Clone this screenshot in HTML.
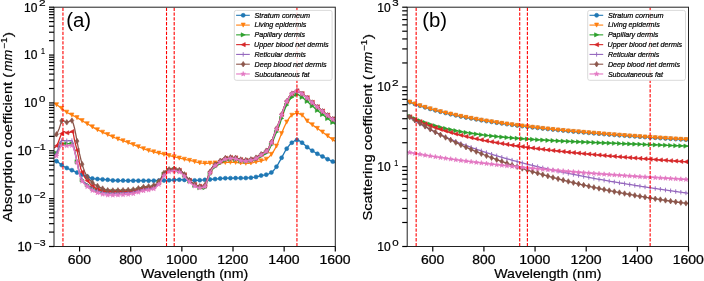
<!DOCTYPE html>
<html><head><meta charset="utf-8"><style>
html,body{margin:0;padding:0;background:#fff;}
svg{display:block;}
text{font-family:"Liberation Sans",sans-serif;fill:#000}
.tk{font-size:12.2px;stroke:#000;stroke-width:0.25px}.sup{font-size:8.6px;stroke:#000;stroke-width:0.18px}.lg{font-size:7.5px;font-style:italic;stroke:#000;stroke-width:0.22px}.pl{font-size:20px}.al{font-size:12.4px;stroke:#000;stroke-width:0.2px}.ali{font-size:12.4px;font-style:italic;stroke:#000;stroke-width:0.2px}.als{font-size:8.6px;stroke:#000;stroke-width:0.18px}
</style></head><body>
<svg width="704" height="281" viewBox="0 0 704 281">
<rect width="704" height="281" fill="#fff"/>
<defs><clipPath id="cl"><rect x="54" y="7.2" width="281.3" height="239.3"/></clipPath><clipPath id="cr"><rect x="407.2" y="7.2" width="281.3" height="239.3"/></clipPath></defs>
<g clip-path="url(#cl)">
<path d="M54.00,160.60 L55.28,160.81 L56.56,161.19 L57.84,161.93 L59.11,162.98 L60.39,164.10 L61.67,165.08 L62.95,165.88 L64.23,166.63 L65.51,167.34 L66.79,167.99 L68.06,168.58 L69.34,169.12 L70.62,169.65 L71.90,170.20 L73.18,170.80 L74.46,171.42 L75.74,172.03 L77.02,172.59 L78.29,173.12 L79.57,173.63 L80.85,174.12 L82.13,174.60 L83.41,175.07 L84.69,175.54 L85.97,176.02 L87.24,176.49 L88.52,177.03 L89.80,177.59 L91.08,178.09 L92.36,178.44 L93.64,178.63 L94.92,178.79 L96.19,178.92 L97.47,179.03 L98.75,179.13 L100.03,179.22 L101.31,179.30 L102.59,179.38 L103.87,179.46 L105.15,179.55 L106.42,179.65 L107.70,179.77 L108.98,179.92 L110.26,180.09 L111.54,180.24 L112.82,180.38 L114.10,180.47 L115.37,180.50 L116.65,180.52 L117.93,180.54 L119.21,180.55 L120.49,180.57 L121.77,180.58 L123.05,180.59 L124.33,180.60 L125.60,180.61 L126.88,180.62 L128.16,180.63 L129.44,180.64 L130.72,180.65 L132.00,180.66 L133.28,180.66 L134.55,180.67 L135.83,180.67 L137.11,180.68 L138.39,180.68 L139.67,180.69 L140.95,180.69 L142.23,180.69 L143.50,180.70 L144.78,180.70 L146.06,180.70 L147.34,180.70 L148.62,180.70 L149.90,180.70 L151.18,180.70 L152.46,180.69 L153.73,180.68 L155.01,180.66 L156.29,180.64 L157.57,180.62 L158.85,180.59 L160.13,180.56 L161.41,180.53 L162.68,180.50 L163.96,180.47 L165.24,180.43 L166.52,180.40 L167.80,180.35 L169.08,180.27 L170.36,180.19 L171.63,180.09 L172.91,180.00 L174.19,179.90 L175.47,179.82 L176.75,179.76 L178.03,179.71 L179.31,179.70 L180.59,179.72 L181.86,179.75 L183.14,179.81 L184.42,179.88 L185.70,179.96 L186.98,180.05 L188.26,180.13 L189.54,180.21 L190.81,180.28 L192.09,180.34 L193.37,180.38 L194.65,180.40 L195.93,180.39 L197.21,180.35 L198.49,180.29 L199.76,180.21 L201.04,180.12 L202.32,180.03 L203.60,179.94 L204.88,179.86 L206.16,179.77 L207.44,179.67 L208.72,179.57 L209.99,179.47 L211.27,179.37 L212.55,179.27 L213.83,179.17 L215.11,179.05 L216.39,178.93 L217.67,178.79 L218.94,178.66 L220.22,178.54 L221.50,178.42 L222.78,178.33 L224.06,178.25 L225.34,178.21 L226.62,178.18 L227.89,178.16 L229.17,178.15 L230.45,178.14 L231.73,178.13 L233.01,178.12 L234.29,178.11 L235.57,178.11 L236.85,178.10 L238.12,178.10 L239.40,178.09 L240.68,178.08 L241.96,178.07 L243.24,178.06 L244.52,178.04 L245.80,178.02 L247.07,178.00 L248.35,177.95 L249.63,177.85 L250.91,177.71 L252.19,177.54 L253.47,177.36 L254.75,177.15 L256.02,176.94 L257.30,176.65 L258.58,176.30 L259.86,175.94 L261.14,175.61 L262.42,175.36 L263.70,175.15 L264.98,174.92 L266.25,174.64 L267.53,174.27 L268.81,173.80 L270.09,173.21 L271.37,172.49 L272.65,171.44 L273.93,170.05 L275.20,168.43 L276.48,166.71 L277.76,164.71 L279.04,162.44 L280.32,160.09 L281.60,157.79 L282.88,155.39 L284.15,152.95 L285.43,150.66 L286.71,148.70 L287.99,146.94 L289.27,145.30 L290.55,143.87 L291.83,142.73 L293.11,141.80 L294.38,140.92 L295.66,140.27 L296.94,140.00 L298.22,140.24 L299.50,140.90 L300.78,141.77 L302.06,142.67 L303.33,143.66 L304.61,144.84 L305.89,146.06 L307.17,147.15 L308.45,148.10 L309.73,148.98 L311.01,149.82 L312.28,150.66 L313.56,151.48 L314.84,152.29 L316.12,153.07 L317.40,153.81 L318.68,154.50 L319.96,155.15 L321.24,155.80 L322.51,156.46 L323.79,157.15 L325.07,157.86 L326.35,158.55 L327.63,159.21 L328.91,159.84 L330.19,160.44 L331.46,161.03 L332.74,161.62 L334.02,162.21 L335.30,162.80" fill="none" stroke="#1f77b4" stroke-width="1.3" stroke-linejoin="round"/>
<g fill="#1f77b4" stroke="#1f77b4" stroke-width="0.6"><circle cx="56.56" cy="161.19" r="2.0"/><circle cx="61.67" cy="165.08" r="2.0"/><circle cx="66.79" cy="167.99" r="2.0"/><circle cx="71.90" cy="170.20" r="2.0"/><circle cx="77.02" cy="172.59" r="2.0"/><circle cx="82.13" cy="174.60" r="2.0"/><circle cx="87.24" cy="176.49" r="2.0"/><circle cx="92.36" cy="178.44" r="2.0"/><circle cx="97.47" cy="179.03" r="2.0"/><circle cx="102.59" cy="179.38" r="2.0"/><circle cx="107.70" cy="179.77" r="2.0"/><circle cx="112.82" cy="180.38" r="2.0"/><circle cx="117.93" cy="180.54" r="2.0"/><circle cx="123.05" cy="180.59" r="2.0"/><circle cx="128.16" cy="180.63" r="2.0"/><circle cx="133.28" cy="180.66" r="2.0"/><circle cx="138.39" cy="180.68" r="2.0"/><circle cx="143.50" cy="180.70" r="2.0"/><circle cx="148.62" cy="180.70" r="2.0"/><circle cx="153.73" cy="180.68" r="2.0"/><circle cx="158.85" cy="180.59" r="2.0"/><circle cx="163.96" cy="180.47" r="2.0"/><circle cx="169.08" cy="180.27" r="2.0"/><circle cx="174.19" cy="179.90" r="2.0"/><circle cx="179.31" cy="179.70" r="2.0"/><circle cx="184.42" cy="179.88" r="2.0"/><circle cx="189.54" cy="180.21" r="2.0"/><circle cx="194.65" cy="180.40" r="2.0"/><circle cx="199.76" cy="180.21" r="2.0"/><circle cx="204.88" cy="179.86" r="2.0"/><circle cx="209.99" cy="179.47" r="2.0"/><circle cx="215.11" cy="179.05" r="2.0"/><circle cx="220.22" cy="178.54" r="2.0"/><circle cx="225.34" cy="178.21" r="2.0"/><circle cx="230.45" cy="178.14" r="2.0"/><circle cx="235.57" cy="178.11" r="2.0"/><circle cx="240.68" cy="178.08" r="2.0"/><circle cx="245.80" cy="178.02" r="2.0"/><circle cx="250.91" cy="177.71" r="2.0"/><circle cx="256.02" cy="176.94" r="2.0"/><circle cx="261.14" cy="175.61" r="2.0"/><circle cx="266.25" cy="174.64" r="2.0"/><circle cx="271.37" cy="172.49" r="2.0"/><circle cx="276.48" cy="166.71" r="2.0"/><circle cx="281.60" cy="157.79" r="2.0"/><circle cx="286.71" cy="148.70" r="2.0"/><circle cx="291.83" cy="142.73" r="2.0"/><circle cx="296.94" cy="140.00" r="2.0"/><circle cx="302.06" cy="142.67" r="2.0"/><circle cx="307.17" cy="147.15" r="2.0"/><circle cx="312.28" cy="150.66" r="2.0"/><circle cx="317.40" cy="153.81" r="2.0"/><circle cx="322.51" cy="156.46" r="2.0"/><circle cx="327.63" cy="159.21" r="2.0"/><circle cx="332.74" cy="161.62" r="2.0"/></g>
</g>
<g clip-path="url(#cl)">
<path d="M54.00,103.40 L55.28,104.00 L56.56,104.69 L57.84,105.50 L59.11,106.41 L60.39,107.38 L61.67,108.40 L62.95,109.42 L64.23,110.41 L65.51,111.35 L66.79,112.19 L68.06,112.95 L69.34,113.66 L70.62,114.34 L71.90,114.99 L73.18,115.64 L74.46,116.29 L75.74,116.95 L77.02,117.65 L78.29,118.38 L79.57,119.13 L80.85,119.89 L82.13,120.66 L83.41,121.44 L84.69,122.21 L85.97,122.98 L87.24,123.75 L88.52,124.51 L89.80,125.29 L91.08,126.08 L92.36,126.85 L93.64,127.62 L94.92,128.36 L96.19,129.07 L97.47,129.75 L98.75,130.39 L100.03,131.02 L101.31,131.63 L102.59,132.22 L103.87,132.80 L105.15,133.38 L106.42,133.96 L107.70,134.54 L108.98,135.12 L110.26,135.71 L111.54,136.30 L112.82,136.88 L114.10,137.45 L115.37,138.00 L116.65,138.52 L117.93,139.03 L119.21,139.50 L120.49,139.95 L121.77,140.39 L123.05,140.81 L124.33,141.24 L125.60,141.67 L126.88,142.11 L128.16,142.57 L129.44,143.05 L130.72,143.54 L132.00,144.05 L133.28,144.57 L134.55,145.10 L135.83,145.63 L137.11,146.16 L138.39,146.69 L139.67,147.21 L140.95,147.73 L142.23,148.23 L143.50,148.72 L144.78,149.20 L146.06,149.65 L147.34,150.08 L148.62,150.48 L149.90,150.86 L151.18,151.22 L152.46,151.57 L153.73,151.90 L155.01,152.22 L156.29,152.53 L157.57,152.83 L158.85,153.13 L160.13,153.43 L161.41,153.72 L162.68,154.01 L163.96,154.31 L165.24,154.62 L166.52,154.93 L167.80,155.25 L169.08,155.57 L170.36,155.89 L171.63,156.21 L172.91,156.53 L174.19,156.85 L175.47,157.16 L176.75,157.48 L178.03,157.79 L179.31,158.09 L180.59,158.40 L181.86,158.69 L183.14,158.99 L184.42,159.28 L185.70,159.57 L186.98,159.85 L188.26,160.13 L189.54,160.40 L190.81,160.68 L192.09,160.98 L193.37,161.31 L194.65,161.65 L195.93,161.98 L197.21,162.30 L198.49,162.59 L199.76,162.85 L201.04,163.06 L202.32,163.21 L203.60,163.29 L204.88,163.30 L206.16,163.28 L207.44,163.25 L208.72,163.22 L209.99,163.17 L211.27,163.12 L212.55,163.06 L213.83,163.00 L215.11,162.94 L216.39,162.88 L217.67,162.83 L218.94,162.78 L220.22,162.73 L221.50,162.68 L222.78,162.62 L224.06,162.56 L225.34,162.50 L226.62,162.44 L227.89,162.40 L229.17,162.35 L230.45,162.32 L231.73,162.30 L233.01,162.30 L234.29,162.33 L235.57,162.40 L236.85,162.50 L238.12,162.62 L239.40,162.75 L240.68,162.89 L241.96,163.01 L243.24,163.13 L244.52,163.22 L245.80,163.28 L247.07,163.30 L248.35,163.25 L249.63,163.14 L250.91,162.96 L252.19,162.74 L253.47,162.49 L254.75,162.21 L256.02,161.93 L257.30,161.65 L258.58,161.38 L259.86,161.13 L261.14,160.85 L262.42,160.55 L263.70,160.19 L264.98,159.75 L266.25,159.18 L267.53,158.28 L268.81,157.12 L270.09,155.82 L271.37,154.34 L272.65,152.60 L273.93,150.61 L275.20,148.42 L276.48,146.05 L277.76,143.21 L279.04,139.97 L280.32,136.63 L281.60,133.49 L282.88,130.37 L284.15,127.29 L285.43,124.46 L286.71,122.07 L287.99,119.82 L289.27,117.79 L290.55,116.22 L291.83,115.27 L293.11,114.52 L294.38,113.89 L295.66,113.47 L296.94,113.30 L298.22,113.44 L299.50,113.86 L300.78,114.47 L302.06,115.20 L303.33,116.12 L304.61,117.69 L305.89,119.50 L307.17,120.96 L308.45,122.04 L309.73,122.99 L311.01,123.88 L312.28,124.77 L313.56,125.70 L314.84,126.61 L316.12,127.52 L317.40,128.42 L318.68,129.31 L319.96,130.21 L321.24,131.12 L322.51,132.04 L323.79,132.98 L325.07,133.94 L326.35,134.92 L327.63,135.90 L328.91,136.87 L330.19,137.81 L331.46,138.73 L332.74,139.59 L334.02,140.41 L335.30,141.20" fill="none" stroke="#ff7f0e" stroke-width="1.3" stroke-linejoin="round"/>
<g fill="#ff7f0e" stroke="#ff7f0e" stroke-width="0.6"><path d="M54.51,102.64L58.61,102.64L56.56,106.74Z"/><path d="M59.62,106.35L63.72,106.35L61.67,110.45Z"/><path d="M64.74,110.14L68.84,110.14L66.79,114.24Z"/><path d="M69.85,112.94L73.95,112.94L71.90,117.04Z"/><path d="M74.97,115.60L79.07,115.60L77.02,119.70Z"/><path d="M80.08,118.61L84.18,118.61L82.13,122.71Z"/><path d="M85.19,121.70L89.29,121.70L87.24,125.80Z"/><path d="M90.31,124.80L94.41,124.80L92.36,128.90Z"/><path d="M95.42,127.70L99.52,127.70L97.47,131.80Z"/><path d="M100.54,130.17L104.64,130.17L102.59,134.27Z"/><path d="M105.65,132.49L109.75,132.49L107.70,136.59Z"/><path d="M110.77,134.83L114.87,134.83L112.82,138.93Z"/><path d="M115.88,136.98L119.98,136.98L117.93,141.08Z"/><path d="M121.00,138.76L125.10,138.76L123.05,142.86Z"/><path d="M126.11,140.52L130.21,140.52L128.16,144.62Z"/><path d="M131.23,142.52L135.33,142.52L133.28,146.62Z"/><path d="M136.34,144.64L140.44,144.64L138.39,148.74Z"/><path d="M141.45,146.67L145.55,146.67L143.50,150.77Z"/><path d="M146.57,148.43L150.67,148.43L148.62,152.53Z"/><path d="M151.68,149.85L155.78,149.85L153.73,153.95Z"/><path d="M156.80,151.08L160.90,151.08L158.85,155.18Z"/><path d="M161.91,152.26L166.01,152.26L163.96,156.36Z"/><path d="M167.03,153.52L171.13,153.52L169.08,157.62Z"/><path d="M172.14,154.80L176.24,154.80L174.19,158.90Z"/><path d="M177.26,156.04L181.36,156.04L179.31,160.14Z"/><path d="M182.37,157.23L186.47,157.23L184.42,161.33Z"/><path d="M187.49,158.35L191.59,158.35L189.54,162.45Z"/><path d="M192.60,159.60L196.70,159.60L194.65,163.70Z"/><path d="M197.71,160.80L201.81,160.80L199.76,164.90Z"/><path d="M202.83,161.25L206.93,161.25L204.88,165.35Z"/><path d="M207.94,161.12L212.04,161.12L209.99,165.22Z"/><path d="M213.06,160.89L217.16,160.89L215.11,164.99Z"/><path d="M218.17,160.68L222.27,160.68L220.22,164.78Z"/><path d="M223.29,160.45L227.39,160.45L225.34,164.55Z"/><path d="M228.40,160.27L232.50,160.27L230.45,164.37Z"/><path d="M233.52,160.35L237.62,160.35L235.57,164.45Z"/><path d="M238.63,160.84L242.73,160.84L240.68,164.94Z"/><path d="M243.75,161.23L247.85,161.23L245.80,165.33Z"/><path d="M248.86,160.91L252.96,160.91L250.91,165.01Z"/><path d="M253.97,159.88L258.07,159.88L256.02,163.98Z"/><path d="M259.09,158.80L263.19,158.80L261.14,162.90Z"/><path d="M264.20,157.13L268.30,157.13L266.25,161.23Z"/><path d="M269.32,152.29L273.42,152.29L271.37,156.39Z"/><path d="M274.43,144.00L278.53,144.00L276.48,148.10Z"/><path d="M279.55,131.44L283.65,131.44L281.60,135.54Z"/><path d="M284.66,120.02L288.76,120.02L286.71,124.12Z"/><path d="M289.78,113.22L293.88,113.22L291.83,117.32Z"/><path d="M294.89,111.25L298.99,111.25L296.94,115.35Z"/><path d="M300.01,113.15L304.11,113.15L302.06,117.25Z"/><path d="M305.12,118.91L309.22,118.91L307.17,123.01Z"/><path d="M310.23,122.72L314.33,122.72L312.28,126.82Z"/><path d="M315.35,126.37L319.45,126.37L317.40,130.47Z"/><path d="M320.46,129.99L324.56,129.99L322.51,134.09Z"/><path d="M325.58,133.85L329.68,133.85L327.63,137.95Z"/><path d="M330.69,137.54L334.79,137.54L332.74,141.64Z"/></g>
</g>
<g clip-path="url(#cl)">
<path d="M54.00,154.20 L55.28,153.79 L56.56,152.96 L57.84,150.93 L59.11,147.84 L60.39,145.07 L61.67,143.98 L62.95,143.86 L64.23,143.77 L65.51,143.72 L66.79,143.70 L68.06,143.70 L69.34,143.70 L70.62,143.70 L71.90,143.70 L73.18,145.54 L74.46,150.00 L75.74,155.11 L77.02,161.65 L78.29,167.91 L79.57,174.14 L80.85,177.91 L82.13,179.99 L83.41,181.60 L84.69,182.87 L85.97,183.92 L87.24,184.88 L88.52,185.81 L89.80,186.70 L91.08,187.52 L92.36,188.27 L93.64,188.92 L94.92,189.44 L96.19,189.83 L97.47,190.08 L98.75,190.28 L100.03,190.47 L101.31,190.64 L102.59,190.79 L103.87,190.92 L105.15,191.03 L106.42,191.12 L107.70,191.18 L108.98,191.21 L110.26,191.22 L111.54,191.22 L112.82,191.22 L114.10,191.22 L115.37,191.22 L116.65,191.22 L117.93,191.22 L119.21,191.21 L120.49,191.21 L121.77,191.21 L123.05,191.21 L124.33,191.20 L125.60,191.20 L126.88,191.20 L128.16,191.19 L129.44,191.19 L130.72,191.16 L132.00,191.05 L133.28,190.87 L134.55,190.63 L135.83,190.35 L137.11,190.03 L138.39,189.70 L139.67,189.36 L140.95,189.04 L142.23,188.74 L143.50,188.48 L144.78,188.28 L146.06,188.13 L147.34,188.03 L148.62,187.93 L149.90,187.82 L151.18,187.67 L152.46,187.44 L153.73,186.93 L155.01,186.13 L156.29,185.10 L157.57,183.90 L158.85,182.58 L160.13,180.93 L161.41,178.56 L162.68,176.11 L163.96,174.14 L165.24,172.38 L166.52,171.31 L167.80,170.76 L169.08,170.29 L170.36,169.92 L171.63,169.67 L172.91,169.54 L174.19,169.54 L175.47,169.69 L176.75,169.95 L178.03,170.30 L179.31,170.72 L180.59,171.25 L181.86,172.25 L183.14,173.62 L184.42,175.16 L185.70,176.67 L186.98,178.01 L188.26,179.40 L189.54,180.80 L190.81,182.09 L192.09,183.21 L193.37,184.24 L194.65,185.27 L195.93,186.21 L197.21,186.98 L198.49,187.49 L199.76,187.71 L201.04,187.87 L202.32,187.98 L203.60,188.05 L204.88,187.65 L206.16,184.75 L207.44,181.15 L208.72,177.75 L209.99,174.13 L211.27,171.22 L212.55,169.37 L213.83,167.96 L215.11,166.78 L216.39,165.77 L217.67,164.86 L218.94,164.00 L220.22,163.10 L221.50,162.21 L222.78,161.39 L224.06,160.71 L225.34,160.24 L226.62,159.95 L227.89,159.70 L229.17,159.48 L230.45,159.32 L231.73,159.22 L233.01,159.20 L234.29,159.31 L235.57,159.55 L236.85,159.87 L238.12,160.23 L239.40,160.61 L240.68,160.95 L241.96,161.23 L243.24,161.40 L244.52,161.43 L245.80,161.37 L247.07,161.26 L248.35,161.09 L249.63,160.88 L250.91,160.64 L252.19,160.38 L253.47,160.08 L254.75,159.63 L256.02,159.06 L257.30,158.39 L258.58,157.67 L259.86,156.91 L261.14,156.16 L262.42,155.44 L263.70,154.73 L264.98,153.96 L266.25,153.05 L267.53,151.93 L268.81,150.42 L270.09,147.82 L271.37,144.84 L272.65,141.79 L273.93,138.51 L275.20,135.19 L276.48,132.01 L277.76,129.14 L279.04,126.23 L280.32,122.68 L281.60,118.41 L282.88,114.62 L284.15,111.03 L285.43,107.81 L286.71,105.08 L287.99,102.63 L289.27,100.41 L290.55,98.59 L291.83,97.31 L293.11,96.29 L294.38,95.39 L295.66,94.76 L296.94,94.50 L298.22,94.72 L299.50,95.34 L300.78,96.24 L302.06,97.28 L303.33,98.33 L304.61,99.28 L305.89,100.28 L307.17,101.36 L308.45,102.49 L309.73,103.65 L311.01,104.82 L312.28,105.98 L313.56,107.11 L314.84,108.19 L316.12,109.27 L317.40,110.34 L318.68,111.41 L319.96,112.47 L321.24,113.52 L322.51,114.56 L323.79,115.58 L325.07,116.59 L326.35,117.59 L327.63,118.57 L328.91,119.54 L330.19,120.49 L331.46,121.44 L332.74,122.37 L334.02,123.29 L335.30,124.20" fill="none" stroke="#2ca02c" stroke-width="1.3" stroke-linejoin="round"/>
<g fill="#2ca02c" stroke="#2ca02c" stroke-width="0.6"><path d="M54.51,150.91L54.51,155.01L58.61,152.96Z"/><path d="M59.62,141.93L59.62,146.03L63.72,143.98Z"/><path d="M64.74,141.65L64.74,145.75L68.84,143.70Z"/><path d="M69.85,141.65L69.85,145.75L73.95,143.70Z"/><path d="M74.97,159.60L74.97,163.70L79.07,161.65Z"/><path d="M80.08,177.94L80.08,182.04L84.18,179.99Z"/><path d="M85.19,182.83L85.19,186.93L89.29,184.88Z"/><path d="M90.31,186.22L90.31,190.32L94.41,188.27Z"/><path d="M95.42,188.03L95.42,192.13L99.52,190.08Z"/><path d="M100.54,188.74L100.54,192.84L104.64,190.79Z"/><path d="M105.65,189.13L105.65,193.23L109.75,191.18Z"/><path d="M110.77,189.17L110.77,193.27L114.87,191.22Z"/><path d="M115.88,189.17L115.88,193.27L119.98,191.22Z"/><path d="M121.00,189.16L121.00,193.26L125.10,191.21Z"/><path d="M126.11,189.14L126.11,193.24L130.21,191.19Z"/><path d="M131.23,188.82L131.23,192.92L135.33,190.87Z"/><path d="M136.34,187.65L136.34,191.75L140.44,189.70Z"/><path d="M141.45,186.43L141.45,190.53L145.55,188.48Z"/><path d="M146.57,185.88L146.57,189.98L150.67,187.93Z"/><path d="M151.68,184.88L151.68,188.98L155.78,186.93Z"/><path d="M156.80,180.53L156.80,184.63L160.90,182.58Z"/><path d="M161.91,172.09L161.91,176.19L166.01,174.14Z"/><path d="M167.03,168.24L167.03,172.34L171.13,170.29Z"/><path d="M172.14,167.49L172.14,171.59L176.24,169.54Z"/><path d="M177.26,168.67L177.26,172.77L181.36,170.72Z"/><path d="M182.37,173.11L182.37,177.21L186.47,175.16Z"/><path d="M187.49,178.75L187.49,182.85L191.59,180.80Z"/><path d="M192.60,183.22L192.60,187.32L196.70,185.27Z"/><path d="M197.71,185.66L197.71,189.76L201.81,187.71Z"/><path d="M202.83,185.60L202.83,189.70L206.93,187.65Z"/><path d="M207.94,172.08L207.94,176.18L212.04,174.13Z"/><path d="M213.06,164.73L213.06,168.83L217.16,166.78Z"/><path d="M218.17,161.05L218.17,165.15L222.27,163.10Z"/><path d="M223.29,158.19L223.29,162.29L227.39,160.24Z"/><path d="M228.40,157.27L228.40,161.37L232.50,159.32Z"/><path d="M233.52,157.50L233.52,161.60L237.62,159.55Z"/><path d="M238.63,158.90L238.63,163.00L242.73,160.95Z"/><path d="M243.75,159.32L243.75,163.42L247.85,161.37Z"/><path d="M248.86,158.59L248.86,162.69L252.96,160.64Z"/><path d="M253.97,157.01L253.97,161.11L258.07,159.06Z"/><path d="M259.09,154.11L259.09,158.21L263.19,156.16Z"/><path d="M264.20,151.00L264.20,155.10L268.30,153.05Z"/><path d="M269.32,142.79L269.32,146.89L273.42,144.84Z"/><path d="M274.43,129.96L274.43,134.06L278.53,132.01Z"/><path d="M279.55,116.36L279.55,120.46L283.65,118.41Z"/><path d="M284.66,103.03L284.66,107.13L288.76,105.08Z"/><path d="M289.78,95.26L289.78,99.36L293.88,97.31Z"/><path d="M294.89,92.45L294.89,96.55L298.99,94.50Z"/><path d="M300.01,95.23L300.01,99.33L304.11,97.28Z"/><path d="M305.12,99.31L305.12,103.41L309.22,101.36Z"/><path d="M310.23,103.93L310.23,108.03L314.33,105.98Z"/><path d="M315.35,108.29L315.35,112.39L319.45,110.34Z"/><path d="M320.46,112.51L320.46,116.61L324.56,114.56Z"/><path d="M325.58,116.52L325.58,120.62L329.68,118.57Z"/><path d="M330.69,120.32L330.69,124.42L334.79,122.37Z"/></g>
</g>
<g clip-path="url(#cl)">
<path d="M54.00,148.00 L55.28,147.15 L56.56,145.75 L57.84,143.40 L59.11,139.99 L60.39,136.45 L61.67,133.69 L62.95,131.59 L64.23,131.69 L65.51,132.25 L66.79,132.81 L68.06,132.99 L69.34,132.63 L70.62,132.05 L71.90,131.59 L73.18,132.86 L74.46,139.82 L75.74,145.05 L77.02,150.15 L78.29,155.99 L79.57,163.39 L80.85,168.74 L82.13,172.12 L83.41,174.90 L84.69,177.19 L85.97,179.08 L87.24,180.69 L88.52,182.16 L89.80,183.52 L91.08,184.76 L92.36,185.88 L93.64,186.86 L94.92,187.69 L96.19,188.36 L97.47,188.88 L98.75,189.34 L100.03,189.78 L101.31,190.20 L102.59,190.58 L103.87,190.91 L105.15,191.20 L106.42,191.42 L107.70,191.58 L108.98,191.68 L110.26,191.69 L111.54,191.69 L112.82,191.69 L114.10,191.68 L115.37,191.67 L116.65,191.66 L117.93,191.65 L119.21,191.64 L120.49,191.62 L121.77,191.60 L123.05,191.58 L124.33,191.56 L125.60,191.54 L126.88,191.51 L128.16,191.48 L129.44,191.45 L130.72,191.40 L132.00,191.26 L133.28,191.06 L134.55,190.80 L135.83,190.50 L137.11,190.18 L138.39,189.83 L139.67,189.48 L140.95,189.15 L142.23,188.84 L143.50,188.57 L144.78,188.34 L146.06,188.18 L147.34,188.06 L148.62,187.95 L149.90,187.83 L151.18,187.66 L152.46,187.41 L153.73,186.88 L155.01,186.06 L156.29,185.02 L157.57,183.81 L158.85,182.47 L160.13,180.80 L161.41,178.42 L162.68,175.95 L163.96,173.97 L165.24,172.20 L166.52,171.11 L167.80,170.53 L169.08,170.04 L170.36,169.66 L171.63,169.39 L172.91,169.25 L174.19,169.26 L175.47,169.39 L176.75,169.63 L178.03,169.97 L179.31,170.36 L180.59,170.87 L181.86,171.85 L183.14,173.21 L184.42,174.73 L185.70,176.23 L186.98,177.57 L188.26,178.97 L189.54,180.38 L190.81,181.66 L192.09,182.68 L193.37,183.60 L194.65,184.49 L195.93,185.29 L197.21,185.90 L198.49,186.25 L199.76,186.28 L201.04,186.22 L202.32,186.09 L203.60,185.89 L204.88,185.26 L206.16,182.32 L207.44,178.75 L208.72,175.35 L209.99,171.74 L211.27,168.86 L212.55,167.03 L213.83,165.63 L215.11,164.47 L216.39,163.47 L217.67,162.58 L218.94,161.73 L220.22,160.84 L221.50,159.94 L222.78,159.13 L224.06,158.47 L225.34,158.07 L226.62,157.87 L227.89,157.71 L229.17,157.58 L230.45,157.48 L231.73,157.42 L233.01,157.41 L234.29,157.56 L235.57,157.86 L236.85,158.26 L238.12,158.73 L239.40,159.20 L240.68,159.64 L241.96,159.99 L243.24,160.20 L244.52,160.25 L245.80,160.20 L247.07,160.09 L248.35,159.94 L249.63,159.74 L250.91,159.51 L252.19,159.26 L253.47,158.96 L254.75,158.45 L256.02,157.77 L257.30,156.97 L258.58,156.09 L259.86,155.19 L261.14,154.31 L262.42,153.48 L263.70,152.67 L264.98,151.80 L266.25,150.78 L267.53,149.54 L268.81,147.89 L270.09,145.15 L271.37,142.03 L272.65,138.81 L273.93,135.36 L275.20,131.85 L276.48,128.49 L277.76,125.43 L279.04,122.33 L280.32,118.67 L281.60,114.42 L282.88,110.65 L284.15,107.08 L285.43,103.87 L286.71,101.16 L287.99,98.73 L289.27,96.52 L290.55,94.71 L291.83,93.45 L293.11,92.45 L294.38,91.57 L295.66,90.95 L296.94,90.70 L298.22,90.92 L299.50,91.56 L300.78,92.46 L302.06,93.51 L303.33,94.58 L304.61,95.54 L305.89,96.55 L307.17,97.64 L308.45,98.78 L309.73,99.95 L311.01,101.13 L312.28,102.30 L313.56,103.44 L314.84,104.53 L316.12,105.61 L317.40,106.70 L318.68,107.78 L319.96,108.85 L321.24,109.91 L322.51,110.96 L323.79,111.99 L325.07,113.01 L326.35,114.02 L327.63,115.01 L328.91,115.99 L330.19,116.95 L331.46,117.91 L332.74,118.85 L334.02,119.78 L335.30,120.70" fill="none" stroke="#d62728" stroke-width="1.3" stroke-linejoin="round"/>
<g fill="#d62728" stroke="#d62728" stroke-width="0.6"><path d="M58.61,143.70L58.61,147.80L54.51,145.75Z"/><path d="M63.72,131.64L63.72,135.74L59.62,133.69Z"/><path d="M68.84,130.76L68.84,134.86L64.74,132.81Z"/><path d="M73.95,129.54L73.95,133.64L69.85,131.59Z"/><path d="M79.07,148.10L79.07,152.20L74.97,150.15Z"/><path d="M84.18,170.07L84.18,174.17L80.08,172.12Z"/><path d="M89.29,178.64L89.29,182.74L85.19,180.69Z"/><path d="M94.41,183.83L94.41,187.93L90.31,185.88Z"/><path d="M99.52,186.83L99.52,190.93L95.42,188.88Z"/><path d="M104.64,188.53L104.64,192.63L100.54,190.58Z"/><path d="M109.75,189.53L109.75,193.63L105.65,191.58Z"/><path d="M114.87,189.64L114.87,193.74L110.77,191.69Z"/><path d="M119.98,189.60L119.98,193.70L115.88,191.65Z"/><path d="M125.10,189.53L125.10,193.63L121.00,191.58Z"/><path d="M130.21,189.43L130.21,193.53L126.11,191.48Z"/><path d="M135.33,189.01L135.33,193.11L131.23,191.06Z"/><path d="M140.44,187.78L140.44,191.88L136.34,189.83Z"/><path d="M145.55,186.52L145.55,190.62L141.45,188.57Z"/><path d="M150.67,185.90L150.67,190.00L146.57,187.95Z"/><path d="M155.78,184.83L155.78,188.93L151.68,186.88Z"/><path d="M160.90,180.42L160.90,184.52L156.80,182.47Z"/><path d="M166.01,171.92L166.01,176.02L161.91,173.97Z"/><path d="M171.13,167.99L171.13,172.09L167.03,170.04Z"/><path d="M176.24,167.21L176.24,171.31L172.14,169.26Z"/><path d="M181.36,168.31L181.36,172.41L177.26,170.36Z"/><path d="M186.47,172.68L186.47,176.78L182.37,174.73Z"/><path d="M191.59,178.33L191.59,182.43L187.49,180.38Z"/><path d="M196.70,182.44L196.70,186.54L192.60,184.49Z"/><path d="M201.81,184.23L201.81,188.33L197.71,186.28Z"/><path d="M206.93,183.21L206.93,187.31L202.83,185.26Z"/><path d="M212.04,169.69L212.04,173.79L207.94,171.74Z"/><path d="M217.16,162.42L217.16,166.52L213.06,164.47Z"/><path d="M222.27,158.79L222.27,162.89L218.17,160.84Z"/><path d="M227.39,156.02L227.39,160.12L223.29,158.07Z"/><path d="M232.50,155.43L232.50,159.53L228.40,157.48Z"/><path d="M237.62,155.81L237.62,159.91L233.52,157.86Z"/><path d="M242.73,157.59L242.73,161.69L238.63,159.64Z"/><path d="M247.85,158.15L247.85,162.25L243.75,160.20Z"/><path d="M252.96,157.46L252.96,161.56L248.86,159.51Z"/><path d="M258.07,155.72L258.07,159.82L253.97,157.77Z"/><path d="M263.19,152.26L263.19,156.36L259.09,154.31Z"/><path d="M268.30,148.73L268.30,152.83L264.20,150.78Z"/><path d="M273.42,139.98L273.42,144.08L269.32,142.03Z"/><path d="M278.53,126.44L278.53,130.54L274.43,128.49Z"/><path d="M283.65,112.37L283.65,116.47L279.55,114.42Z"/><path d="M288.76,99.11L288.76,103.21L284.66,101.16Z"/><path d="M293.88,91.40L293.88,95.50L289.78,93.45Z"/><path d="M298.99,88.65L298.99,92.75L294.89,90.70Z"/><path d="M304.11,91.46L304.11,95.56L300.01,93.51Z"/><path d="M309.22,95.59L309.22,99.69L305.12,97.64Z"/><path d="M314.33,100.25L314.33,104.35L310.23,102.30Z"/><path d="M319.45,104.65L319.45,108.75L315.35,106.70Z"/><path d="M324.56,108.91L324.56,113.01L320.46,110.96Z"/><path d="M329.68,112.96L329.68,117.06L325.58,115.01Z"/><path d="M334.79,116.80L334.79,120.90L330.69,118.85Z"/></g>
</g>
<g clip-path="url(#cl)">
<path d="M54.00,155.50 L55.28,154.57 L56.56,153.01 L57.84,149.67 L59.11,145.29 L60.39,141.70 L61.67,140.60 L62.95,140.64 L64.23,140.71 L65.51,140.77 L66.79,140.80 L68.06,140.77 L69.34,140.71 L70.62,140.64 L71.90,140.60 L73.18,143.04 L74.46,150.10 L75.74,156.16 L77.02,161.64 L78.29,167.28 L79.57,173.51 L80.85,177.49 L82.13,179.69 L83.41,181.41 L84.69,182.77 L85.97,183.92 L87.24,184.99 L88.52,186.03 L89.80,187.01 L91.08,187.93 L92.36,188.77 L93.64,189.51 L94.92,190.15 L96.19,190.66 L97.47,191.05 L98.75,191.40 L100.03,191.74 L101.31,192.06 L102.59,192.35 L103.87,192.60 L105.15,192.82 L106.42,193.00 L107.70,193.12 L108.98,193.19 L110.26,193.20 L111.54,193.20 L112.82,193.18 L114.10,193.16 L115.37,193.14 L116.65,193.10 L117.93,193.06 L119.21,193.02 L120.49,192.96 L121.77,192.91 L123.05,192.85 L124.33,192.78 L125.60,192.71 L126.88,192.63 L128.16,192.55 L129.44,192.47 L130.72,192.36 L132.00,192.18 L133.28,191.94 L134.55,191.65 L135.83,191.31 L137.11,190.96 L138.39,190.58 L139.67,190.21 L140.95,189.85 L142.23,189.52 L143.50,189.22 L144.78,188.97 L146.06,188.79 L147.34,188.65 L148.62,188.52 L149.90,188.38 L151.18,188.18 L152.46,187.90 L153.73,187.35 L155.01,186.53 L156.29,185.50 L157.57,184.30 L158.85,182.97 L160.13,181.30 L161.41,178.92 L162.68,176.45 L163.96,174.47 L165.24,172.70 L166.52,171.61 L167.80,171.03 L169.08,170.54 L170.36,170.16 L171.63,169.89 L172.91,169.75 L174.19,169.76 L175.47,169.89 L176.75,170.13 L178.03,170.47 L179.31,170.86 L180.59,171.37 L181.86,172.35 L183.14,173.71 L184.42,175.23 L185.70,176.73 L186.98,178.07 L188.26,179.47 L189.54,180.88 L190.81,182.16 L192.09,183.18 L193.37,184.10 L194.65,184.99 L195.93,185.79 L197.21,186.40 L198.49,186.75 L199.76,186.78 L201.04,186.72 L202.32,186.58 L203.60,186.38 L204.88,185.74 L206.16,182.80 L207.44,179.22 L208.72,175.81 L209.99,172.20 L211.27,169.31 L212.55,167.48 L213.83,166.08 L215.11,164.91 L216.39,163.91 L217.67,163.02 L218.94,162.16 L220.22,161.26 L221.50,160.36 L222.78,159.54 L224.06,158.89 L225.34,158.47 L226.62,158.27 L227.89,158.10 L229.17,157.97 L230.45,157.86 L231.73,157.80 L233.01,157.79 L234.29,157.93 L235.57,158.23 L236.85,158.63 L238.12,159.08 L239.40,159.55 L240.68,159.98 L241.96,160.33 L243.24,160.54 L244.52,160.58 L245.80,160.53 L247.07,160.42 L248.35,160.26 L249.63,160.06 L250.91,159.83 L252.19,159.57 L253.47,159.25 L254.75,158.74 L256.02,158.06 L257.30,157.25 L258.58,156.37 L259.86,155.47 L261.14,154.58 L262.42,153.75 L263.70,152.93 L264.98,152.06 L266.25,151.03 L267.53,149.79 L268.81,148.13 L270.09,145.39 L271.37,142.26 L272.65,139.04 L273.93,135.58 L275.20,132.07 L276.48,128.70 L277.76,125.63 L279.04,122.53 L280.32,118.87 L281.60,114.63 L282.88,110.86 L284.15,107.30 L285.43,104.10 L286.71,101.40 L287.99,98.97 L289.27,96.77 L290.55,94.97 L291.83,93.72 L293.11,92.73 L294.38,91.86 L295.66,91.25 L296.94,91.00 L298.22,91.23 L299.50,91.86 L300.78,92.78 L302.06,93.84 L303.33,94.91 L304.61,95.88 L305.89,96.90 L307.17,97.99 L308.45,99.14 L309.73,100.32 L311.01,101.51 L312.28,102.68 L313.56,103.82 L314.84,104.92 L316.12,106.01 L317.40,107.10 L318.68,108.19 L319.96,109.27 L321.24,110.33 L322.51,111.39 L323.79,112.43 L325.07,113.46 L326.35,114.47 L327.63,115.47 L328.91,116.45 L330.19,117.43 L331.46,118.39 L332.74,119.34 L334.02,120.28 L335.30,121.20" fill="none" stroke="#9467bd" stroke-width="1.3" stroke-linejoin="round"/>
<g stroke="#9467bd"><path d="M56.56,150.76V155.26" fill="none" stroke-width="0.9"/><path d="M61.67,138.35V142.85" fill="none" stroke-width="0.9"/><path d="M66.79,138.55V143.05" fill="none" stroke-width="0.9"/><path d="M71.90,138.35V142.85" fill="none" stroke-width="0.9"/><path d="M77.02,159.39V163.89" fill="none" stroke-width="0.9"/><path d="M82.13,177.44V181.94" fill="none" stroke-width="0.9"/><path d="M87.24,182.74V187.24" fill="none" stroke-width="0.9"/><path d="M92.36,186.52V191.02" fill="none" stroke-width="0.9"/><path d="M97.47,188.80V193.30" fill="none" stroke-width="0.9"/><path d="M102.59,190.10V194.60" fill="none" stroke-width="0.9"/><path d="M107.70,190.87V195.37" fill="none" stroke-width="0.9"/><path d="M112.82,190.93V195.43" fill="none" stroke-width="0.9"/><path d="M117.93,190.81V195.31" fill="none" stroke-width="0.9"/><path d="M123.05,190.60V195.10" fill="none" stroke-width="0.9"/><path d="M128.16,190.30V194.80" fill="none" stroke-width="0.9"/><path d="M133.28,189.69V194.19" fill="none" stroke-width="0.9"/><path d="M138.39,188.33V192.83" fill="none" stroke-width="0.9"/><path d="M143.50,186.97V191.47" fill="none" stroke-width="0.9"/><path d="M148.62,186.27V190.77" fill="none" stroke-width="0.9"/><path d="M153.73,185.10V189.60" fill="none" stroke-width="0.9"/><path d="M158.85,180.72V185.22" fill="none" stroke-width="0.9"/><path d="M163.96,172.22V176.72" fill="none" stroke-width="0.9"/><path d="M169.08,168.29V172.79" fill="none" stroke-width="0.9"/><path d="M174.19,167.51V172.01" fill="none" stroke-width="0.9"/><path d="M179.31,168.61V173.11" fill="none" stroke-width="0.9"/><path d="M184.42,172.98V177.48" fill="none" stroke-width="0.9"/><path d="M189.54,178.63V183.13" fill="none" stroke-width="0.9"/><path d="M194.65,182.74V187.24" fill="none" stroke-width="0.9"/><path d="M199.76,184.53V189.03" fill="none" stroke-width="0.9"/><path d="M204.88,183.49V187.99" fill="none" stroke-width="0.9"/><path d="M209.99,169.95V174.45" fill="none" stroke-width="0.9"/><path d="M215.11,162.66V167.16" fill="none" stroke-width="0.9"/><path d="M220.22,159.01V163.51" fill="none" stroke-width="0.9"/><path d="M225.34,156.22V160.72" fill="none" stroke-width="0.9"/><path d="M230.45,155.61V160.11" fill="none" stroke-width="0.9"/><path d="M235.57,155.98V160.48" fill="none" stroke-width="0.9"/><path d="M240.68,157.73V162.23" fill="none" stroke-width="0.9"/><path d="M245.80,158.28V162.78" fill="none" stroke-width="0.9"/><path d="M250.91,157.58V162.08" fill="none" stroke-width="0.9"/><path d="M256.02,155.81V160.31" fill="none" stroke-width="0.9"/><path d="M261.14,152.33V156.83" fill="none" stroke-width="0.9"/><path d="M266.25,148.78V153.28" fill="none" stroke-width="0.9"/><path d="M271.37,140.01V144.51" fill="none" stroke-width="0.9"/><path d="M276.48,126.45V130.95" fill="none" stroke-width="0.9"/><path d="M281.60,112.38V116.88" fill="none" stroke-width="0.9"/><path d="M286.71,99.15V103.65" fill="none" stroke-width="0.9"/><path d="M291.83,91.47V95.97" fill="none" stroke-width="0.9"/><path d="M296.94,88.75V93.25" fill="none" stroke-width="0.9"/><path d="M302.06,91.59V96.09" fill="none" stroke-width="0.9"/><path d="M307.17,95.74V100.24" fill="none" stroke-width="0.9"/><path d="M312.28,100.43V104.93" fill="none" stroke-width="0.9"/><path d="M317.40,104.85V109.35" fill="none" stroke-width="0.9"/><path d="M322.51,109.14V113.64" fill="none" stroke-width="0.9"/><path d="M327.63,113.22V117.72" fill="none" stroke-width="0.9"/><path d="M332.74,117.09V121.59" fill="none" stroke-width="0.9"/></g>
</g>
<g clip-path="url(#cl)">
<path d="M54.00,136.50 L55.28,135.71 L56.56,134.26 L57.84,131.74 L59.11,128.68 L60.39,124.88 L61.67,120.89 L62.95,120.32 L64.23,121.03 L65.51,121.88 L66.79,122.30 L68.06,122.00 L69.34,121.35 L70.62,120.72 L71.90,120.56 L73.18,123.25 L74.46,127.85 L75.74,134.05 L77.02,141.11 L78.29,147.75 L79.57,153.88 L80.85,159.31 L82.13,164.19 L83.41,168.19 L84.69,171.67 L85.97,174.61 L87.24,176.74 L88.52,178.43 L89.80,179.94 L91.08,181.28 L92.36,182.47 L93.64,183.52 L94.92,184.44 L96.19,185.25 L97.47,185.96 L98.75,186.65 L100.03,187.33 L101.31,187.98 L102.59,188.59 L103.87,189.14 L105.15,189.62 L106.42,190.00 L107.70,190.28 L108.98,190.44 L110.26,190.46 L111.54,190.46 L112.82,190.45 L114.10,190.44 L115.37,190.42 L116.65,190.40 L117.93,190.38 L119.21,190.35 L120.49,190.32 L121.77,190.29 L123.05,190.25 L124.33,190.21 L125.60,190.16 L126.88,190.12 L128.16,190.06 L129.44,190.01 L130.72,189.93 L132.00,189.78 L133.28,189.56 L134.55,189.28 L135.83,188.97 L137.11,188.63 L138.39,188.27 L139.67,187.92 L140.95,187.58 L142.23,187.27 L143.50,187.00 L144.78,186.78 L146.06,186.63 L147.34,186.51 L148.62,186.41 L149.90,186.30 L151.18,186.14 L152.46,185.91 L153.73,185.41 L155.01,184.65 L156.29,183.67 L157.57,182.53 L158.85,181.27 L160.13,179.66 L161.41,177.34 L162.68,174.93 L163.96,173.00 L165.24,171.28 L166.52,170.26 L167.80,169.77 L169.08,169.36 L170.36,169.04 L171.63,168.82 L172.91,168.71 L174.19,168.72 L175.47,168.87 L176.75,169.14 L178.03,169.51 L179.31,169.94 L180.59,170.48 L181.86,171.49 L183.14,172.87 L184.42,174.42 L185.70,175.94 L186.98,177.30 L188.26,178.73 L189.54,180.17 L190.81,181.47 L192.09,182.52 L193.37,183.47 L194.65,184.40 L195.93,185.23 L197.21,185.87 L198.49,186.23 L199.76,186.26 L201.04,186.20 L202.32,186.07 L203.60,185.88 L204.88,185.25 L206.16,182.31 L207.44,178.73 L208.72,175.32 L209.99,171.72 L211.27,168.83 L212.55,167.00 L213.83,165.60 L215.11,164.43 L216.39,163.43 L217.67,162.54 L218.94,161.69 L220.22,160.79 L221.50,159.89 L222.78,159.07 L224.06,158.42 L225.34,158.00 L226.62,157.81 L227.89,157.64 L229.17,157.50 L230.45,157.40 L231.73,157.34 L233.01,157.33 L234.29,157.48 L235.57,157.77 L236.85,158.17 L238.12,158.63 L239.40,159.10 L240.68,159.53 L241.96,159.88 L243.24,160.10 L244.52,160.14 L245.80,160.09 L247.07,159.98 L248.35,159.82 L249.63,159.63 L250.91,159.40 L252.19,159.15 L253.47,158.84 L254.75,158.34 L256.02,157.67 L257.30,156.87 L258.58,156.00 L259.86,155.11 L261.14,154.23 L262.42,153.41 L263.70,152.60 L264.98,151.74 L266.25,150.72 L267.53,149.49 L268.81,147.85 L270.09,145.11 L271.37,141.99 L272.65,138.78 L273.93,135.33 L275.20,131.83 L276.48,128.48 L277.76,125.42 L279.04,122.33 L280.32,118.68 L281.60,114.45 L282.88,110.70 L284.15,107.15 L285.43,103.97 L286.71,101.28 L287.99,98.87 L289.27,96.68 L290.55,94.89 L291.83,93.66 L293.11,92.69 L294.38,91.84 L295.66,91.24 L296.94,91.00 L298.22,91.22 L299.50,91.85 L300.78,92.76 L302.06,93.80 L303.33,94.86 L304.61,95.82 L305.89,96.83 L307.17,97.91 L308.45,99.05 L309.73,100.22 L311.01,101.40 L312.28,102.56 L313.56,103.69 L314.84,104.78 L316.12,105.87 L317.40,106.95 L318.68,108.02 L319.96,109.09 L321.24,110.14 L322.51,111.19 L323.79,112.22 L325.07,113.24 L326.35,114.24 L327.63,115.23 L328.91,116.20 L330.19,117.17 L331.46,118.12 L332.74,119.06 L334.02,119.99 L335.30,120.90" fill="none" stroke="#8c564b" stroke-width="1.3" stroke-linejoin="round"/>
<g fill="#8c564b" stroke="#8c564b" stroke-width="0.6"><path d="M56.56,131.46L58.46,134.26L56.56,137.06L54.66,134.26Z"/><path d="M61.67,118.09L63.57,120.89L61.67,123.69L59.77,120.89Z"/><path d="M66.79,119.50L68.69,122.30L66.79,125.10L64.89,122.30Z"/><path d="M71.90,117.76L73.80,120.56L71.90,123.36L70.00,120.56Z"/><path d="M77.02,138.31L78.92,141.11L77.02,143.91L75.12,141.11Z"/><path d="M82.13,161.39L84.03,164.19L82.13,166.99L80.23,164.19Z"/><path d="M87.24,173.94L89.14,176.74L87.24,179.54L85.34,176.74Z"/><path d="M92.36,179.67L94.26,182.47L92.36,185.27L90.46,182.47Z"/><path d="M97.47,183.16L99.37,185.96L97.47,188.76L95.57,185.96Z"/><path d="M102.59,185.79L104.49,188.59L102.59,191.39L100.69,188.59Z"/><path d="M107.70,187.48L109.60,190.28L107.70,193.08L105.80,190.28Z"/><path d="M112.82,187.65L114.72,190.45L112.82,193.25L110.92,190.45Z"/><path d="M117.93,187.58L119.83,190.38L117.93,193.18L116.03,190.38Z"/><path d="M123.05,187.45L124.95,190.25L123.05,193.05L121.15,190.25Z"/><path d="M128.16,187.26L130.06,190.06L128.16,192.86L126.26,190.06Z"/><path d="M133.28,186.76L135.18,189.56L133.28,192.36L131.38,189.56Z"/><path d="M138.39,185.47L140.29,188.27L138.39,191.07L136.49,188.27Z"/><path d="M143.50,184.20L145.40,187.00L143.50,189.80L141.60,187.00Z"/><path d="M148.62,183.61L150.52,186.41L148.62,189.21L146.72,186.41Z"/><path d="M153.73,182.61L155.63,185.41L153.73,188.21L151.83,185.41Z"/><path d="M158.85,178.47L160.75,181.27L158.85,184.07L156.95,181.27Z"/><path d="M163.96,170.20L165.86,173.00L163.96,175.80L162.06,173.00Z"/><path d="M169.08,166.56L170.98,169.36L169.08,172.16L167.18,169.36Z"/><path d="M174.19,165.92L176.09,168.72L174.19,171.52L172.29,168.72Z"/><path d="M179.31,167.14L181.21,169.94L179.31,172.74L177.41,169.94Z"/><path d="M184.42,171.62L186.32,174.42L184.42,177.22L182.52,174.42Z"/><path d="M189.54,177.37L191.44,180.17L189.54,182.97L187.64,180.17Z"/><path d="M194.65,181.60L196.55,184.40L194.65,187.20L192.75,184.40Z"/><path d="M199.76,183.46L201.66,186.26L199.76,189.06L197.86,186.26Z"/><path d="M204.88,182.45L206.78,185.25L204.88,188.05L202.98,185.25Z"/><path d="M209.99,168.92L211.89,171.72L209.99,174.52L208.09,171.72Z"/><path d="M215.11,161.63L217.01,164.43L215.11,167.23L213.21,164.43Z"/><path d="M220.22,157.99L222.12,160.79L220.22,163.59L218.32,160.79Z"/><path d="M225.34,155.20L227.24,158.00L225.34,160.80L223.44,158.00Z"/><path d="M230.45,154.60L232.35,157.40L230.45,160.20L228.55,157.40Z"/><path d="M235.57,154.97L237.47,157.77L235.57,160.57L233.67,157.77Z"/><path d="M240.68,156.73L242.58,159.53L240.68,162.33L238.78,159.53Z"/><path d="M245.80,157.29L247.70,160.09L245.80,162.89L243.90,160.09Z"/><path d="M250.91,156.60L252.81,159.40L250.91,162.20L249.01,159.40Z"/><path d="M256.02,154.87L257.92,157.67L256.02,160.47L254.12,157.67Z"/><path d="M261.14,151.43L263.04,154.23L261.14,157.03L259.24,154.23Z"/><path d="M266.25,147.92L268.15,150.72L266.25,153.52L264.35,150.72Z"/><path d="M271.37,139.19L273.27,141.99L271.37,144.79L269.47,141.99Z"/><path d="M276.48,125.68L278.38,128.48L276.48,131.28L274.58,128.48Z"/><path d="M281.60,111.65L283.50,114.45L281.60,117.25L279.70,114.45Z"/><path d="M286.71,98.48L288.61,101.28L286.71,104.08L284.81,101.28Z"/><path d="M291.83,90.86L293.73,93.66L291.83,96.46L289.93,93.66Z"/><path d="M296.94,88.20L298.84,91.00L296.94,93.80L295.04,91.00Z"/><path d="M302.06,91.00L303.96,93.80L302.06,96.60L300.16,93.80Z"/><path d="M307.17,95.11L309.07,97.91L307.17,100.71L305.27,97.91Z"/><path d="M312.28,99.76L314.18,102.56L312.28,105.36L310.38,102.56Z"/><path d="M317.40,104.15L319.30,106.95L317.40,109.75L315.50,106.95Z"/><path d="M322.51,108.39L324.41,111.19L322.51,113.99L320.61,111.19Z"/><path d="M327.63,112.43L329.53,115.23L327.63,118.03L325.73,115.23Z"/><path d="M332.74,116.26L334.64,119.06L332.74,121.86L330.84,119.06Z"/></g>
</g>
<g clip-path="url(#cl)">
<path d="M54.00,157.50 L55.28,156.97 L56.56,155.95 L57.84,153.54 L59.11,149.92 L60.39,146.74 L61.67,145.60 L62.95,145.64 L64.23,145.70 L65.51,145.77 L66.79,145.80 L68.06,145.74 L69.34,145.61 L70.62,145.47 L71.90,145.40 L73.18,147.06 L74.46,151.13 L75.74,156.04 L77.02,162.64 L78.29,168.90 L79.57,175.13 L80.85,179.00 L82.13,181.22 L83.41,182.96 L84.69,184.34 L85.97,185.51 L87.24,186.61 L88.52,187.67 L89.80,188.67 L91.08,189.61 L92.36,190.47 L93.64,191.23 L94.92,191.89 L96.19,192.43 L97.47,192.84 L98.75,193.23 L100.03,193.59 L101.31,193.94 L102.59,194.25 L103.87,194.54 L105.15,194.78 L106.42,194.97 L107.70,195.11 L108.98,195.19 L110.26,195.20 L111.54,195.19 L112.82,195.17 L114.10,195.14 L115.37,195.11 L116.65,195.06 L117.93,195.01 L119.21,194.94 L120.49,194.88 L121.77,194.80 L123.05,194.72 L124.33,194.63 L125.60,194.54 L126.88,194.44 L128.16,194.34 L129.44,194.23 L130.72,194.10 L132.00,193.90 L133.28,193.64 L134.55,193.33 L135.83,192.98 L137.11,192.61 L138.39,192.22 L139.67,191.83 L140.95,191.46 L142.23,191.11 L143.50,190.80 L144.78,190.54 L146.06,190.34 L147.34,190.18 L148.62,190.04 L149.90,189.89 L151.18,189.68 L152.46,189.37 L153.73,188.81 L155.01,187.98 L156.29,186.94 L157.57,185.72 L158.85,184.38 L160.13,182.70 L161.41,180.31 L162.68,177.83 L163.96,175.83 L165.24,174.05 L166.52,172.94 L167.80,172.35 L169.08,171.84 L170.36,171.44 L171.63,171.16 L172.91,171.02 L174.19,171.02 L175.47,171.15 L176.75,171.38 L178.03,171.69 L179.31,172.07 L180.59,172.56 L181.86,173.53 L183.14,174.87 L184.42,176.39 L185.70,177.87 L186.98,179.20 L188.26,180.59 L189.54,181.98 L190.81,183.25 L192.09,184.26 L193.37,185.16 L194.65,186.04 L195.93,186.82 L197.21,187.42 L198.49,187.76 L199.76,187.79 L201.04,187.72 L202.32,187.57 L203.60,187.35 L204.88,186.69 L206.16,183.74 L207.44,180.15 L208.72,176.74 L209.99,173.12 L211.27,170.21 L212.55,168.37 L213.83,166.96 L215.11,165.78 L216.39,164.77 L217.67,163.86 L218.94,163.00 L220.22,162.09 L221.50,161.18 L222.78,160.35 L224.06,159.68 L225.34,159.25 L226.62,159.04 L227.89,158.85 L229.17,158.70 L230.45,158.58 L231.73,158.52 L233.01,158.51 L234.29,158.64 L235.57,158.93 L236.85,159.31 L238.12,159.75 L239.40,160.20 L240.68,160.62 L241.96,160.95 L243.24,161.16 L244.52,161.20 L245.80,161.14 L247.07,161.02 L248.35,160.85 L249.63,160.64 L250.91,160.39 L252.19,160.11 L253.47,159.78 L254.75,159.26 L256.02,158.57 L257.30,157.75 L258.58,156.86 L259.86,155.94 L261.14,155.04 L262.42,154.20 L263.70,153.38 L264.98,152.49 L266.25,151.46 L267.53,150.20 L268.81,148.53 L270.09,145.78 L271.37,142.64 L272.65,139.40 L273.93,135.93 L275.20,132.41 L276.48,129.03 L277.76,125.95 L279.04,122.84 L280.32,119.17 L281.60,114.91 L282.88,111.11 L284.15,107.53 L285.43,104.31 L286.71,101.58 L287.99,99.13 L289.27,96.91 L290.55,95.09 L291.83,93.81 L293.11,92.79 L294.38,91.89 L295.66,91.26 L296.94,91.00 L298.22,91.23 L299.50,91.86 L300.78,92.78 L302.06,93.84 L303.33,94.91 L304.61,95.88 L305.89,96.90 L307.17,97.99 L308.45,99.14 L309.73,100.32 L311.01,101.51 L312.28,102.68 L313.56,103.82 L314.84,104.92 L316.12,106.01 L317.40,107.10 L318.68,108.19 L319.96,109.27 L321.24,110.33 L322.51,111.39 L323.79,112.43 L325.07,113.46 L326.35,114.47 L327.63,115.47 L328.91,116.45 L330.19,117.43 L331.46,118.39 L332.74,119.34 L334.02,120.28 L335.30,121.20" fill="none" stroke="#e377c2" stroke-width="1.3" stroke-linejoin="round"/>
<g fill="#e377c2" stroke="#e377c2" stroke-width="0.6"><path d="M56.56,153.45 L57.15,155.14 L58.93,155.17 L57.51,156.26 L58.03,157.97 L56.56,156.95 L55.09,157.97 L55.61,156.26 L54.18,155.17 L55.97,155.14Z"/><path d="M61.67,143.10 L62.26,144.79 L64.05,144.83 L62.62,145.91 L63.14,147.62 L61.67,146.60 L60.20,147.62 L60.72,145.91 L59.29,144.83 L61.08,144.79Z"/><path d="M66.79,143.30 L67.37,144.99 L69.16,145.03 L67.74,146.11 L68.26,147.82 L66.79,146.80 L65.32,147.82 L65.84,146.11 L64.41,145.03 L66.20,144.99Z"/><path d="M71.90,142.90 L72.49,144.59 L74.28,144.63 L72.85,145.71 L73.37,147.42 L71.90,146.40 L70.43,147.42 L70.95,145.71 L69.52,144.63 L71.31,144.59Z"/><path d="M77.02,160.14 L77.60,161.83 L79.39,161.86 L77.97,162.94 L78.48,164.66 L77.02,163.64 L75.55,164.66 L76.06,162.94 L74.64,161.86 L76.43,161.83Z"/><path d="M82.13,178.72 L82.72,180.41 L84.51,180.45 L83.08,181.53 L83.60,183.25 L82.13,182.22 L80.66,183.25 L81.18,181.53 L79.75,180.45 L81.54,180.41Z"/><path d="M87.24,184.11 L87.83,185.80 L89.62,185.84 L88.20,186.92 L88.71,188.63 L87.24,187.61 L85.78,188.63 L86.29,186.92 L84.87,185.84 L86.66,185.80Z"/><path d="M92.36,187.97 L92.95,189.66 L94.74,189.70 L93.31,190.78 L93.83,192.49 L92.36,191.47 L90.89,192.49 L91.41,190.78 L89.98,189.70 L91.77,189.66Z"/><path d="M97.47,190.34 L98.06,192.03 L99.85,192.07 L98.42,193.15 L98.94,194.87 L97.47,193.84 L96.00,194.87 L96.52,193.15 L95.10,192.07 L96.89,192.03Z"/><path d="M102.59,191.75 L103.18,193.45 L104.97,193.48 L103.54,194.56 L104.06,196.28 L102.59,195.25 L101.12,196.28 L101.64,194.56 L100.21,193.48 L102.00,193.45Z"/><path d="M107.70,192.61 L108.29,194.30 L110.08,194.34 L108.65,195.42 L109.17,197.13 L107.70,196.11 L106.23,197.13 L106.75,195.42 L105.33,194.34 L107.11,194.30Z"/><path d="M112.82,192.67 L113.41,194.36 L115.19,194.40 L113.77,195.48 L114.29,197.19 L112.82,196.17 L111.35,197.19 L111.87,195.48 L110.44,194.40 L112.23,194.36Z"/><path d="M117.93,192.51 L118.52,194.20 L120.31,194.23 L118.88,195.32 L119.40,197.03 L117.93,196.01 L116.46,197.03 L116.98,195.32 L115.55,194.23 L117.34,194.20Z"/><path d="M123.05,192.22 L123.63,193.91 L125.42,193.95 L124.00,195.03 L124.52,196.74 L123.05,195.72 L121.58,196.74 L122.10,195.03 L120.67,193.95 L122.46,193.91Z"/><path d="M128.16,191.84 L128.75,193.53 L130.54,193.56 L129.11,194.65 L129.63,196.36 L128.16,195.34 L126.69,196.36 L127.21,194.65 L125.78,193.56 L127.57,193.53Z"/><path d="M133.28,191.14 L133.86,192.83 L135.65,192.87 L134.23,193.95 L134.74,195.66 L133.28,194.64 L131.81,195.66 L132.32,193.95 L130.90,192.87 L132.69,192.83Z"/><path d="M138.39,189.72 L138.98,191.41 L140.77,191.45 L139.34,192.53 L139.86,194.24 L138.39,193.22 L136.92,194.24 L137.44,192.53 L136.01,191.45 L137.80,191.41Z"/><path d="M143.50,188.30 L144.09,189.99 L145.88,190.03 L144.46,191.11 L144.97,192.82 L143.50,191.80 L142.04,192.82 L142.55,191.11 L141.13,190.03 L142.92,189.99Z"/><path d="M148.62,187.54 L149.21,189.24 L151.00,189.27 L149.57,190.35 L150.09,192.07 L148.62,191.04 L147.15,192.07 L147.67,190.35 L146.24,189.27 L148.03,189.24Z"/><path d="M153.73,186.31 L154.32,188.00 L156.11,188.03 L154.68,189.11 L155.20,190.83 L153.73,189.81 L152.26,190.83 L152.78,189.11 L151.36,188.03 L153.15,188.00Z"/><path d="M158.85,181.88 L159.44,183.57 L161.23,183.61 L159.80,184.69 L160.32,186.41 L158.85,185.38 L157.38,186.41 L157.90,184.69 L156.47,183.61 L158.26,183.57Z"/><path d="M163.96,173.33 L164.55,175.02 L166.34,175.06 L164.91,176.14 L165.43,177.85 L163.96,176.83 L162.49,177.85 L163.01,176.14 L161.59,175.06 L163.37,175.02Z"/><path d="M169.08,169.34 L169.67,171.03 L171.45,171.07 L170.03,172.15 L170.55,173.86 L169.08,172.84 L167.61,173.86 L168.13,172.15 L166.70,171.07 L168.49,171.03Z"/><path d="M174.19,168.52 L174.78,170.21 L176.57,170.25 L175.14,171.33 L175.66,173.04 L174.19,172.02 L172.72,173.04 L173.24,171.33 L171.81,170.25 L173.60,170.21Z"/><path d="M179.31,169.57 L179.89,171.27 L181.68,171.30 L180.26,172.38 L180.78,174.10 L179.31,173.07 L177.84,174.10 L178.36,172.38 L176.93,171.30 L178.72,171.27Z"/><path d="M184.42,173.89 L185.01,175.58 L186.80,175.61 L185.37,176.70 L185.89,178.41 L184.42,177.39 L182.95,178.41 L183.47,176.70 L182.04,175.61 L183.83,175.58Z"/><path d="M189.54,179.48 L190.12,181.17 L191.91,181.21 L190.49,182.29 L191.00,184.01 L189.54,182.98 L188.07,184.01 L188.58,182.29 L187.16,181.21 L188.95,181.17Z"/><path d="M194.65,183.54 L195.24,185.23 L197.03,185.27 L195.60,186.35 L196.12,188.06 L194.65,187.04 L193.18,188.06 L193.70,186.35 L192.27,185.27 L194.06,185.23Z"/><path d="M199.76,185.29 L200.35,186.98 L202.14,187.02 L200.72,188.10 L201.23,189.81 L199.76,188.79 L198.30,189.81 L198.81,188.10 L197.39,187.02 L199.18,186.98Z"/><path d="M204.88,184.19 L205.47,185.88 L207.26,185.92 L205.83,187.00 L206.35,188.71 L204.88,187.69 L203.41,188.71 L203.93,187.00 L202.50,185.92 L204.29,185.88Z"/><path d="M209.99,170.62 L210.58,172.31 L212.37,172.34 L210.94,173.43 L211.46,175.14 L209.99,174.12 L208.52,175.14 L209.04,173.43 L207.62,172.34 L209.41,172.31Z"/><path d="M215.11,163.28 L215.70,164.97 L217.49,165.01 L216.06,166.09 L216.58,167.80 L215.11,166.78 L213.64,167.80 L214.16,166.09 L212.73,165.01 L214.52,164.97Z"/><path d="M220.22,159.59 L220.81,161.28 L222.60,161.31 L221.17,162.40 L221.69,164.11 L220.22,163.09 L218.75,164.11 L219.27,162.40 L217.85,161.31 L219.63,161.28Z"/><path d="M225.34,156.75 L225.93,158.44 L227.71,158.48 L226.29,159.56 L226.81,161.27 L225.34,160.25 L223.87,161.27 L224.39,159.56 L222.96,158.48 L224.75,158.44Z"/><path d="M230.45,156.08 L231.04,157.78 L232.83,157.81 L231.40,158.89 L231.92,160.61 L230.45,159.58 L228.98,160.61 L229.50,158.89 L228.07,157.81 L229.86,157.78Z"/><path d="M235.57,156.43 L236.15,158.12 L237.94,158.15 L236.52,159.24 L237.04,160.95 L235.57,159.93 L234.10,160.95 L234.62,159.24 L233.19,158.15 L234.98,158.12Z"/><path d="M240.68,158.12 L241.27,159.81 L243.06,159.84 L241.63,160.93 L242.15,162.64 L240.68,161.62 L239.21,162.64 L239.73,160.93 L238.30,159.84 L240.09,159.81Z"/><path d="M245.80,158.64 L246.38,160.33 L248.17,160.37 L246.75,161.45 L247.26,163.16 L245.80,162.14 L244.33,163.16 L244.84,161.45 L243.42,160.37 L245.21,160.33Z"/><path d="M250.91,157.89 L251.50,159.58 L253.29,159.62 L251.86,160.70 L252.38,162.41 L250.91,161.39 L249.44,162.41 L249.96,160.70 L248.53,159.62 L250.32,159.58Z"/><path d="M256.02,156.07 L256.61,157.76 L258.40,157.79 L256.98,158.87 L257.49,160.59 L256.02,159.57 L254.56,160.59 L255.07,158.87 L253.65,157.79 L255.44,157.76Z"/><path d="M261.14,152.54 L261.73,154.23 L263.52,154.27 L262.09,155.35 L262.61,157.06 L261.14,156.04 L259.67,157.06 L260.19,155.35 L258.76,154.27 L260.55,154.23Z"/><path d="M266.25,148.96 L266.84,150.65 L268.63,150.68 L267.20,151.77 L267.72,153.48 L266.25,152.46 L264.78,153.48 L265.30,151.77 L263.88,150.68 L265.67,150.65Z"/><path d="M271.37,140.14 L271.96,141.83 L273.75,141.87 L272.32,142.95 L272.84,144.66 L271.37,143.64 L269.90,144.66 L270.42,142.95 L268.99,141.87 L270.78,141.83Z"/><path d="M276.48,126.53 L277.07,128.23 L278.86,128.26 L277.43,129.34 L277.95,131.06 L276.48,130.03 L275.01,131.06 L275.53,129.34 L274.11,128.26 L275.89,128.23Z"/><path d="M281.60,112.41 L282.19,114.10 L283.97,114.13 L282.55,115.22 L283.07,116.93 L281.60,115.91 L280.13,116.93 L280.65,115.22 L279.22,114.13 L281.01,114.10Z"/><path d="M286.71,99.08 L287.30,100.77 L289.09,100.81 L287.66,101.89 L288.18,103.61 L286.71,102.58 L285.24,103.61 L285.76,101.89 L284.33,100.81 L286.12,100.77Z"/><path d="M291.83,91.31 L292.41,93.00 L294.20,93.04 L292.78,94.12 L293.30,95.84 L291.83,94.81 L290.36,95.84 L290.88,94.12 L289.45,93.04 L291.24,93.00Z"/><path d="M296.94,88.50 L297.53,90.19 L299.32,90.23 L297.89,91.31 L298.41,93.02 L296.94,92.00 L295.47,93.02 L295.99,91.31 L294.56,90.23 L296.35,90.19Z"/><path d="M302.06,91.34 L302.64,93.03 L304.43,93.07 L303.01,94.15 L303.52,95.86 L302.06,94.84 L300.59,95.86 L301.10,94.15 L299.68,93.07 L301.47,93.03Z"/><path d="M307.17,95.49 L307.76,97.19 L309.55,97.22 L308.12,98.30 L308.64,100.02 L307.17,98.99 L305.70,100.02 L306.22,98.30 L304.79,97.22 L306.58,97.19Z"/><path d="M312.28,100.18 L312.87,101.87 L314.66,101.91 L313.24,102.99 L313.75,104.70 L312.28,103.68 L310.82,104.70 L311.33,102.99 L309.91,101.91 L311.70,101.87Z"/><path d="M317.40,104.60 L317.99,106.30 L319.78,106.33 L318.35,107.41 L318.87,109.13 L317.40,108.10 L315.93,109.13 L316.45,107.41 L315.02,106.33 L316.81,106.30Z"/><path d="M322.51,108.89 L323.10,110.58 L324.89,110.62 L323.46,111.70 L323.98,113.41 L322.51,112.39 L321.04,113.41 L321.56,111.70 L320.14,110.62 L321.93,110.58Z"/><path d="M327.63,112.97 L328.22,114.66 L330.01,114.70 L328.58,115.78 L329.10,117.49 L327.63,116.47 L326.16,117.49 L326.68,115.78 L325.25,114.70 L327.04,114.66Z"/><path d="M332.74,116.84 L333.33,118.53 L335.12,118.57 L333.69,119.65 L334.21,121.36 L332.74,120.34 L331.27,121.36 L331.79,119.65 L330.37,118.57 L332.15,118.53Z"/></g>
</g>
<g clip-path="url(#cr)">
<path d="M407.20,101.12 L408.48,101.62 L409.76,102.11 L411.04,102.60 L412.31,103.07 L413.59,103.53 L414.87,103.99 L416.15,104.44 L417.43,104.88 L418.71,105.31 L419.99,105.74 L421.26,106.16 L422.54,106.57 L423.82,106.97 L425.10,107.37 L426.38,107.76 L427.66,108.15 L428.94,108.53 L430.22,108.90 L431.49,109.27 L432.77,109.63 L434.05,109.98 L435.33,110.33 L436.61,110.68 L437.89,111.02 L439.17,111.35 L440.44,111.68 L441.72,112.01 L443.00,112.33 L444.28,112.65 L445.56,112.96 L446.84,113.26 L448.12,113.57 L449.39,113.86 L450.67,114.16 L451.95,114.45 L453.23,114.74 L454.51,115.02 L455.79,115.30 L457.07,115.57 L458.35,115.84 L459.62,116.11 L460.90,116.38 L462.18,116.64 L463.46,116.89 L464.74,117.15 L466.02,117.40 L467.30,117.65 L468.57,117.89 L469.85,118.14 L471.13,118.37 L472.41,118.61 L473.69,118.84 L474.97,119.08 L476.25,119.30 L477.52,119.53 L478.80,119.75 L480.08,119.97 L481.36,120.19 L482.64,120.41 L483.92,120.62 L485.20,120.83 L486.48,121.04 L487.75,121.24 L489.03,121.45 L490.31,121.65 L491.59,121.85 L492.87,122.05 L494.15,122.24 L495.43,122.43 L496.70,122.63 L497.98,122.81 L499.26,123.00 L500.54,123.19 L501.82,123.37 L503.10,123.55 L504.38,123.73 L505.65,123.91 L506.93,124.09 L508.21,124.26 L509.49,124.44 L510.77,124.61 L512.05,124.78 L513.33,124.94 L514.61,125.11 L515.88,125.28 L517.16,125.44 L518.44,125.60 L519.72,125.76 L521.00,125.92 L522.28,126.08 L523.56,126.24 L524.83,126.39 L526.11,126.55 L527.39,126.70 L528.67,126.85 L529.95,127.00 L531.23,127.15 L532.51,127.30 L533.78,127.44 L535.06,127.59 L536.34,127.73 L537.62,127.87 L538.90,128.02 L540.18,128.16 L541.46,128.30 L542.74,128.43 L544.01,128.57 L545.29,128.71 L546.57,128.84 L547.85,128.98 L549.13,129.11 L550.41,129.24 L551.69,129.37 L552.96,129.50 L554.24,129.63 L555.52,129.76 L556.80,129.89 L558.08,130.01 L559.36,130.14 L560.64,130.26 L561.91,130.39 L563.19,130.51 L564.47,130.63 L565.75,130.75 L567.03,130.87 L568.31,130.99 L569.59,131.11 L570.87,131.23 L572.14,131.35 L573.42,131.46 L574.70,131.58 L575.98,131.69 L577.26,131.81 L578.54,131.92 L579.82,132.04 L581.09,132.15 L582.37,132.26 L583.65,132.37 L584.93,132.48 L586.21,132.59 L587.49,132.70 L588.77,132.81 L590.05,132.91 L591.32,133.02 L592.60,133.13 L593.88,133.23 L595.16,133.34 L596.44,133.44 L597.72,133.55 L599.00,133.65 L600.27,133.75 L601.55,133.85 L602.83,133.96 L604.11,134.06 L605.39,134.16 L606.67,134.26 L607.95,134.36 L609.22,134.46 L610.50,134.55 L611.78,134.65 L613.06,134.75 L614.34,134.85 L615.62,134.94 L616.90,135.04 L618.17,135.13 L619.45,135.23 L620.73,135.32 L622.01,135.42 L623.29,135.51 L624.57,135.60 L625.85,135.70 L627.13,135.79 L628.40,135.88 L629.68,135.97 L630.96,136.06 L632.24,136.15 L633.52,136.24 L634.80,136.33 L636.08,136.42 L637.35,136.51 L638.63,136.60 L639.91,136.69 L641.19,136.78 L642.47,136.86 L643.75,136.95 L645.03,137.04 L646.31,137.12 L647.58,137.21 L648.86,137.30 L650.14,137.38 L651.42,137.47 L652.70,137.55 L653.98,137.63 L655.26,137.72 L656.53,137.80 L657.81,137.89 L659.09,137.97 L660.37,138.05 L661.65,138.13 L662.93,138.22 L664.21,138.30 L665.48,138.38 L666.76,138.46 L668.04,138.54 L669.32,138.62 L670.60,138.70 L671.88,138.78 L673.16,138.86 L674.43,138.94 L675.71,139.02 L676.99,139.10 L678.27,139.18 L679.55,139.25 L680.83,139.33 L682.11,139.41 L683.39,139.49 L684.66,139.57 L685.94,139.64 L687.22,139.72 L688.50,139.80" fill="none" stroke="#1f77b4" stroke-width="1.3" stroke-linejoin="round"/>
<g fill="#1f77b4" stroke="#1f77b4" stroke-width="0.6"><circle cx="409.76" cy="102.11" r="2.0"/><circle cx="414.87" cy="103.99" r="2.0"/><circle cx="419.99" cy="105.74" r="2.0"/><circle cx="425.10" cy="107.37" r="2.0"/><circle cx="430.22" cy="108.90" r="2.0"/><circle cx="435.33" cy="110.33" r="2.0"/><circle cx="440.44" cy="111.68" r="2.0"/><circle cx="445.56" cy="112.96" r="2.0"/><circle cx="450.67" cy="114.16" r="2.0"/><circle cx="455.79" cy="115.30" r="2.0"/><circle cx="460.90" cy="116.38" r="2.0"/><circle cx="466.02" cy="117.40" r="2.0"/><circle cx="471.13" cy="118.37" r="2.0"/><circle cx="476.25" cy="119.30" r="2.0"/><circle cx="481.36" cy="120.19" r="2.0"/><circle cx="486.48" cy="121.04" r="2.0"/><circle cx="491.59" cy="121.85" r="2.0"/><circle cx="496.70" cy="122.63" r="2.0"/><circle cx="501.82" cy="123.37" r="2.0"/><circle cx="506.93" cy="124.09" r="2.0"/><circle cx="512.05" cy="124.78" r="2.0"/><circle cx="517.16" cy="125.44" r="2.0"/><circle cx="522.28" cy="126.08" r="2.0"/><circle cx="527.39" cy="126.70" r="2.0"/><circle cx="532.51" cy="127.30" r="2.0"/><circle cx="537.62" cy="127.87" r="2.0"/><circle cx="542.74" cy="128.43" r="2.0"/><circle cx="547.85" cy="128.98" r="2.0"/><circle cx="552.96" cy="129.50" r="2.0"/><circle cx="558.08" cy="130.01" r="2.0"/><circle cx="563.19" cy="130.51" r="2.0"/><circle cx="568.31" cy="130.99" r="2.0"/><circle cx="573.42" cy="131.46" r="2.0"/><circle cx="578.54" cy="131.92" r="2.0"/><circle cx="583.65" cy="132.37" r="2.0"/><circle cx="588.77" cy="132.81" r="2.0"/><circle cx="593.88" cy="133.23" r="2.0"/><circle cx="599.00" cy="133.65" r="2.0"/><circle cx="604.11" cy="134.06" r="2.0"/><circle cx="609.22" cy="134.46" r="2.0"/><circle cx="614.34" cy="134.85" r="2.0"/><circle cx="619.45" cy="135.23" r="2.0"/><circle cx="624.57" cy="135.60" r="2.0"/><circle cx="629.68" cy="135.97" r="2.0"/><circle cx="634.80" cy="136.33" r="2.0"/><circle cx="639.91" cy="136.69" r="2.0"/><circle cx="645.03" cy="137.04" r="2.0"/><circle cx="650.14" cy="137.38" r="2.0"/><circle cx="655.26" cy="137.72" r="2.0"/><circle cx="660.37" cy="138.05" r="2.0"/><circle cx="665.48" cy="138.38" r="2.0"/><circle cx="670.60" cy="138.70" r="2.0"/><circle cx="675.71" cy="139.02" r="2.0"/><circle cx="680.83" cy="139.33" r="2.0"/><circle cx="685.94" cy="139.64" r="2.0"/></g>
</g>
<g clip-path="url(#cr)">
<path d="M407.20,101.12 L408.48,101.62 L409.76,102.11 L411.04,102.60 L412.31,103.07 L413.59,103.53 L414.87,103.99 L416.15,104.44 L417.43,104.88 L418.71,105.31 L419.99,105.74 L421.26,106.16 L422.54,106.57 L423.82,106.97 L425.10,107.37 L426.38,107.76 L427.66,108.15 L428.94,108.53 L430.22,108.90 L431.49,109.27 L432.77,109.63 L434.05,109.98 L435.33,110.33 L436.61,110.68 L437.89,111.02 L439.17,111.35 L440.44,111.68 L441.72,112.01 L443.00,112.33 L444.28,112.65 L445.56,112.96 L446.84,113.26 L448.12,113.57 L449.39,113.86 L450.67,114.16 L451.95,114.45 L453.23,114.74 L454.51,115.02 L455.79,115.30 L457.07,115.57 L458.35,115.84 L459.62,116.11 L460.90,116.38 L462.18,116.64 L463.46,116.89 L464.74,117.15 L466.02,117.40 L467.30,117.65 L468.57,117.89 L469.85,118.14 L471.13,118.37 L472.41,118.61 L473.69,118.84 L474.97,119.08 L476.25,119.30 L477.52,119.53 L478.80,119.75 L480.08,119.97 L481.36,120.19 L482.64,120.41 L483.92,120.62 L485.20,120.83 L486.48,121.04 L487.75,121.24 L489.03,121.45 L490.31,121.65 L491.59,121.85 L492.87,122.05 L494.15,122.24 L495.43,122.43 L496.70,122.63 L497.98,122.81 L499.26,123.00 L500.54,123.19 L501.82,123.37 L503.10,123.55 L504.38,123.73 L505.65,123.91 L506.93,124.09 L508.21,124.26 L509.49,124.44 L510.77,124.61 L512.05,124.78 L513.33,124.94 L514.61,125.11 L515.88,125.28 L517.16,125.44 L518.44,125.60 L519.72,125.76 L521.00,125.92 L522.28,126.08 L523.56,126.24 L524.83,126.39 L526.11,126.55 L527.39,126.70 L528.67,126.85 L529.95,127.00 L531.23,127.15 L532.51,127.30 L533.78,127.44 L535.06,127.59 L536.34,127.73 L537.62,127.87 L538.90,128.02 L540.18,128.16 L541.46,128.30 L542.74,128.43 L544.01,128.57 L545.29,128.71 L546.57,128.84 L547.85,128.98 L549.13,129.11 L550.41,129.24 L551.69,129.37 L552.96,129.50 L554.24,129.63 L555.52,129.76 L556.80,129.89 L558.08,130.01 L559.36,130.14 L560.64,130.26 L561.91,130.39 L563.19,130.51 L564.47,130.63 L565.75,130.75 L567.03,130.87 L568.31,130.99 L569.59,131.11 L570.87,131.23 L572.14,131.35 L573.42,131.46 L574.70,131.58 L575.98,131.69 L577.26,131.81 L578.54,131.92 L579.82,132.04 L581.09,132.15 L582.37,132.26 L583.65,132.37 L584.93,132.48 L586.21,132.59 L587.49,132.70 L588.77,132.81 L590.05,132.91 L591.32,133.02 L592.60,133.13 L593.88,133.23 L595.16,133.34 L596.44,133.44 L597.72,133.55 L599.00,133.65 L600.27,133.75 L601.55,133.85 L602.83,133.96 L604.11,134.06 L605.39,134.16 L606.67,134.26 L607.95,134.36 L609.22,134.46 L610.50,134.55 L611.78,134.65 L613.06,134.75 L614.34,134.85 L615.62,134.94 L616.90,135.04 L618.17,135.13 L619.45,135.23 L620.73,135.32 L622.01,135.42 L623.29,135.51 L624.57,135.60 L625.85,135.70 L627.13,135.79 L628.40,135.88 L629.68,135.97 L630.96,136.06 L632.24,136.15 L633.52,136.24 L634.80,136.33 L636.08,136.42 L637.35,136.51 L638.63,136.60 L639.91,136.69 L641.19,136.78 L642.47,136.86 L643.75,136.95 L645.03,137.04 L646.31,137.12 L647.58,137.21 L648.86,137.30 L650.14,137.38 L651.42,137.47 L652.70,137.55 L653.98,137.63 L655.26,137.72 L656.53,137.80 L657.81,137.89 L659.09,137.97 L660.37,138.05 L661.65,138.13 L662.93,138.22 L664.21,138.30 L665.48,138.38 L666.76,138.46 L668.04,138.54 L669.32,138.62 L670.60,138.70 L671.88,138.78 L673.16,138.86 L674.43,138.94 L675.71,139.02 L676.99,139.10 L678.27,139.18 L679.55,139.25 L680.83,139.33 L682.11,139.41 L683.39,139.49 L684.66,139.57 L685.94,139.64 L687.22,139.72 L688.50,139.80" fill="none" stroke="#ff7f0e" stroke-width="1.3" stroke-linejoin="round"/>
<g fill="#ff7f0e" stroke="#ff7f0e" stroke-width="0.6"><path d="M407.71,100.06L411.81,100.06L409.76,104.16Z"/><path d="M412.82,101.94L416.92,101.94L414.87,106.04Z"/><path d="M417.94,103.69L422.04,103.69L419.99,107.79Z"/><path d="M423.05,105.32L427.15,105.32L425.10,109.42Z"/><path d="M428.17,106.85L432.27,106.85L430.22,110.95Z"/><path d="M433.28,108.28L437.38,108.28L435.33,112.38Z"/><path d="M438.39,109.63L442.49,109.63L440.44,113.73Z"/><path d="M443.51,110.91L447.61,110.91L445.56,115.01Z"/><path d="M448.62,112.11L452.72,112.11L450.67,116.21Z"/><path d="M453.74,113.25L457.84,113.25L455.79,117.35Z"/><path d="M458.85,114.33L462.95,114.33L460.90,118.43Z"/><path d="M463.97,115.35L468.07,115.35L466.02,119.45Z"/><path d="M469.08,116.32L473.18,116.32L471.13,120.42Z"/><path d="M474.20,117.25L478.30,117.25L476.25,121.35Z"/><path d="M479.31,118.14L483.41,118.14L481.36,122.24Z"/><path d="M484.43,118.99L488.53,118.99L486.48,123.09Z"/><path d="M489.54,119.80L493.64,119.80L491.59,123.90Z"/><path d="M494.65,120.58L498.75,120.58L496.70,124.68Z"/><path d="M499.77,121.32L503.87,121.32L501.82,125.42Z"/><path d="M504.88,122.04L508.98,122.04L506.93,126.14Z"/><path d="M510.00,122.73L514.10,122.73L512.05,126.83Z"/><path d="M515.11,123.39L519.21,123.39L517.16,127.49Z"/><path d="M520.23,124.03L524.33,124.03L522.28,128.13Z"/><path d="M525.34,124.65L529.44,124.65L527.39,128.75Z"/><path d="M530.46,125.25L534.56,125.25L532.51,129.35Z"/><path d="M535.57,125.82L539.67,125.82L537.62,129.92Z"/><path d="M540.69,126.38L544.79,126.38L542.74,130.48Z"/><path d="M545.80,126.93L549.90,126.93L547.85,131.03Z"/><path d="M550.91,127.45L555.01,127.45L552.96,131.55Z"/><path d="M556.03,127.96L560.13,127.96L558.08,132.06Z"/><path d="M561.14,128.46L565.24,128.46L563.19,132.56Z"/><path d="M566.26,128.94L570.36,128.94L568.31,133.04Z"/><path d="M571.37,129.41L575.47,129.41L573.42,133.51Z"/><path d="M576.49,129.87L580.59,129.87L578.54,133.97Z"/><path d="M581.60,130.32L585.70,130.32L583.65,134.42Z"/><path d="M586.72,130.76L590.82,130.76L588.77,134.86Z"/><path d="M591.83,131.18L595.93,131.18L593.88,135.28Z"/><path d="M596.95,131.60L601.05,131.60L599.00,135.70Z"/><path d="M602.06,132.01L606.16,132.01L604.11,136.11Z"/><path d="M607.17,132.41L611.27,132.41L609.22,136.51Z"/><path d="M612.29,132.80L616.39,132.80L614.34,136.90Z"/><path d="M617.40,133.18L621.50,133.18L619.45,137.28Z"/><path d="M622.52,133.55L626.62,133.55L624.57,137.65Z"/><path d="M627.63,133.92L631.73,133.92L629.68,138.02Z"/><path d="M632.75,134.28L636.85,134.28L634.80,138.38Z"/><path d="M637.86,134.64L641.96,134.64L639.91,138.74Z"/><path d="M642.98,134.99L647.08,134.99L645.03,139.09Z"/><path d="M648.09,135.33L652.19,135.33L650.14,139.43Z"/><path d="M653.21,135.67L657.31,135.67L655.26,139.77Z"/><path d="M658.32,136.00L662.42,136.00L660.37,140.10Z"/><path d="M663.43,136.33L667.53,136.33L665.48,140.43Z"/><path d="M668.55,136.65L672.65,136.65L670.60,140.75Z"/><path d="M673.66,136.97L677.76,136.97L675.71,141.07Z"/><path d="M678.78,137.28L682.88,137.28L680.83,141.38Z"/><path d="M683.89,137.59L687.99,137.59L685.94,141.69Z"/></g>
</g>
<g clip-path="url(#cr)">
<path d="M407.20,115.10 L408.48,115.73 L409.76,116.35 L411.04,116.94 L412.31,117.53 L413.59,118.09 L414.87,118.65 L416.15,119.19 L417.43,119.71 L418.71,120.22 L419.99,120.72 L421.26,121.21 L422.54,121.68 L423.82,122.14 L425.10,122.59 L426.38,123.03 L427.66,123.46 L428.94,123.87 L430.22,124.28 L431.49,124.68 L432.77,125.06 L434.05,125.44 L435.33,125.81 L436.61,126.17 L437.89,126.52 L439.17,126.87 L440.44,127.20 L441.72,127.53 L443.00,127.85 L444.28,128.16 L445.56,128.46 L446.84,128.76 L448.12,129.05 L449.39,129.34 L450.67,129.62 L451.95,129.89 L453.23,130.15 L454.51,130.41 L455.79,130.67 L457.07,130.92 L458.35,131.16 L459.62,131.40 L460.90,131.63 L462.18,131.86 L463.46,132.08 L464.74,132.30 L466.02,132.51 L467.30,132.72 L468.57,132.92 L469.85,133.12 L471.13,133.32 L472.41,133.51 L473.69,133.70 L474.97,133.88 L476.25,134.06 L477.52,134.24 L478.80,134.41 L480.08,134.58 L481.36,134.75 L482.64,134.91 L483.92,135.07 L485.20,135.23 L486.48,135.38 L487.75,135.53 L489.03,135.68 L490.31,135.82 L491.59,135.97 L492.87,136.11 L494.15,136.24 L495.43,136.38 L496.70,136.51 L497.98,136.64 L499.26,136.77 L500.54,136.89 L501.82,137.01 L503.10,137.13 L504.38,137.25 L505.65,137.37 L506.93,137.48 L508.21,137.60 L509.49,137.71 L510.77,137.82 L512.05,137.92 L513.33,138.03 L514.61,138.13 L515.88,138.23 L517.16,138.33 L518.44,138.43 L519.72,138.53 L521.00,138.62 L522.28,138.72 L523.56,138.81 L524.83,138.90 L526.11,138.99 L527.39,139.08 L528.67,139.17 L529.95,139.25 L531.23,139.34 L532.51,139.42 L533.78,139.50 L535.06,139.58 L536.34,139.66 L537.62,139.74 L538.90,139.82 L540.18,139.90 L541.46,139.97 L542.74,140.05 L544.01,140.12 L545.29,140.20 L546.57,140.27 L547.85,140.34 L549.13,140.41 L550.41,140.48 L551.69,140.55 L552.96,140.62 L554.24,140.69 L555.52,140.75 L556.80,140.82 L558.08,140.88 L559.36,140.95 L560.64,141.01 L561.91,141.08 L563.19,141.14 L564.47,141.20 L565.75,141.26 L567.03,141.32 L568.31,141.39 L569.59,141.45 L570.87,141.50 L572.14,141.56 L573.42,141.62 L574.70,141.68 L575.98,141.74 L577.26,141.80 L578.54,141.85 L579.82,141.91 L581.09,141.96 L582.37,142.02 L583.65,142.08 L584.93,142.13 L586.21,142.18 L587.49,142.24 L588.77,142.29 L590.05,142.35 L591.32,142.40 L592.60,142.45 L593.88,142.51 L595.16,142.56 L596.44,142.61 L597.72,142.66 L599.00,142.71 L600.27,142.76 L601.55,142.82 L602.83,142.87 L604.11,142.92 L605.39,142.97 L606.67,143.02 L607.95,143.07 L609.22,143.12 L610.50,143.17 L611.78,143.22 L613.06,143.27 L614.34,143.32 L615.62,143.37 L616.90,143.42 L618.17,143.47 L619.45,143.52 L620.73,143.57 L622.01,143.61 L623.29,143.66 L624.57,143.71 L625.85,143.76 L627.13,143.81 L628.40,143.86 L629.68,143.91 L630.96,143.95 L632.24,144.00 L633.52,144.05 L634.80,144.10 L636.08,144.15 L637.35,144.20 L638.63,144.25 L639.91,144.29 L641.19,144.34 L642.47,144.39 L643.75,144.44 L645.03,144.49 L646.31,144.53 L647.58,144.58 L648.86,144.63 L650.14,144.68 L651.42,144.73 L652.70,144.78 L653.98,144.83 L655.26,144.87 L656.53,144.92 L657.81,144.97 L659.09,145.02 L660.37,145.07 L661.65,145.12 L662.93,145.17 L664.21,145.22 L665.48,145.26 L666.76,145.31 L668.04,145.36 L669.32,145.41 L670.60,145.46 L671.88,145.51 L673.16,145.56 L674.43,145.61 L675.71,145.66 L676.99,145.71 L678.27,145.76 L679.55,145.81 L680.83,145.86 L682.11,145.91 L683.39,145.96 L684.66,146.01 L685.94,146.06 L687.22,146.11 L688.50,146.16" fill="none" stroke="#2ca02c" stroke-width="1.3" stroke-linejoin="round"/>
<g fill="#2ca02c" stroke="#2ca02c" stroke-width="0.6"><path d="M407.71,114.30L407.71,118.40L411.81,116.35Z"/><path d="M412.82,116.60L412.82,120.70L416.92,118.65Z"/><path d="M417.94,118.67L417.94,122.77L422.04,120.72Z"/><path d="M423.05,120.54L423.05,124.64L427.15,122.59Z"/><path d="M428.17,122.23L428.17,126.33L432.27,124.28Z"/><path d="M433.28,123.76L433.28,127.86L437.38,125.81Z"/><path d="M438.39,125.15L438.39,129.25L442.49,127.20Z"/><path d="M443.51,126.41L443.51,130.51L447.61,128.46Z"/><path d="M448.62,127.57L448.62,131.67L452.72,129.62Z"/><path d="M453.74,128.62L453.74,132.72L457.84,130.67Z"/><path d="M458.85,129.58L458.85,133.68L462.95,131.63Z"/><path d="M463.97,130.46L463.97,134.56L468.07,132.51Z"/><path d="M469.08,131.27L469.08,135.37L473.18,133.32Z"/><path d="M474.20,132.01L474.20,136.11L478.30,134.06Z"/><path d="M479.31,132.70L479.31,136.80L483.41,134.75Z"/><path d="M484.43,133.33L484.43,137.43L488.53,135.38Z"/><path d="M489.54,133.92L489.54,138.02L493.64,135.97Z"/><path d="M494.65,134.46L494.65,138.56L498.75,136.51Z"/><path d="M499.77,134.96L499.77,139.06L503.87,137.01Z"/><path d="M504.88,135.43L504.88,139.53L508.98,137.48Z"/><path d="M510.00,135.87L510.00,139.97L514.10,137.92Z"/><path d="M515.11,136.28L515.11,140.38L519.21,138.33Z"/><path d="M520.23,136.67L520.23,140.77L524.33,138.72Z"/><path d="M525.34,137.03L525.34,141.13L529.44,139.08Z"/><path d="M530.46,137.37L530.46,141.47L534.56,139.42Z"/><path d="M535.57,137.69L535.57,141.79L539.67,139.74Z"/><path d="M540.69,138.00L540.69,142.10L544.79,140.05Z"/><path d="M545.80,138.29L545.80,142.39L549.90,140.34Z"/><path d="M550.91,138.57L550.91,142.67L555.01,140.62Z"/><path d="M556.03,138.83L556.03,142.93L560.13,140.88Z"/><path d="M561.14,139.09L561.14,143.19L565.24,141.14Z"/><path d="M566.26,139.34L566.26,143.44L570.36,141.39Z"/><path d="M571.37,139.57L571.37,143.67L575.47,141.62Z"/><path d="M576.49,139.80L576.49,143.90L580.59,141.85Z"/><path d="M581.60,140.03L581.60,144.13L585.70,142.08Z"/><path d="M586.72,140.24L586.72,144.34L590.82,142.29Z"/><path d="M591.83,140.46L591.83,144.56L595.93,142.51Z"/><path d="M596.95,140.66L596.95,144.76L601.05,142.71Z"/><path d="M602.06,140.87L602.06,144.97L606.16,142.92Z"/><path d="M607.17,141.07L607.17,145.17L611.27,143.12Z"/><path d="M612.29,141.27L612.29,145.37L616.39,143.32Z"/><path d="M617.40,141.47L617.40,145.57L621.50,143.52Z"/><path d="M622.52,141.66L622.52,145.76L626.62,143.71Z"/><path d="M627.63,141.86L627.63,145.96L631.73,143.91Z"/><path d="M632.75,142.05L632.75,146.15L636.85,144.10Z"/><path d="M637.86,142.24L637.86,146.34L641.96,144.29Z"/><path d="M642.98,142.44L642.98,146.54L647.08,144.49Z"/><path d="M648.09,142.63L648.09,146.73L652.19,144.68Z"/><path d="M653.21,142.82L653.21,146.92L657.31,144.87Z"/><path d="M658.32,143.02L658.32,147.12L662.42,145.07Z"/><path d="M663.43,143.21L663.43,147.31L667.53,145.26Z"/><path d="M668.55,143.41L668.55,147.51L672.65,145.46Z"/><path d="M673.66,143.61L673.66,147.71L677.76,145.66Z"/><path d="M678.78,143.81L678.78,147.91L682.88,145.86Z"/><path d="M683.89,144.01L683.89,148.11L687.99,146.06Z"/></g>
</g>
<g clip-path="url(#cr)">
<path d="M407.20,115.48 L408.48,116.15 L409.76,116.82 L411.04,117.47 L412.31,118.11 L413.59,118.73 L414.87,119.34 L416.15,119.94 L417.43,120.53 L418.71,121.11 L419.99,121.67 L421.26,122.23 L422.54,122.77 L423.82,123.30 L425.10,123.82 L426.38,124.34 L427.66,124.84 L428.94,125.33 L430.22,125.82 L431.49,126.29 L432.77,126.76 L434.05,127.22 L435.33,127.67 L436.61,128.11 L437.89,128.55 L439.17,128.98 L440.44,129.40 L441.72,129.81 L443.00,130.21 L444.28,130.61 L445.56,131.01 L446.84,131.39 L448.12,131.77 L449.39,132.15 L450.67,132.51 L451.95,132.87 L453.23,133.23 L454.51,133.58 L455.79,133.93 L457.07,134.26 L458.35,134.60 L459.62,134.93 L460.90,135.25 L462.18,135.57 L463.46,135.89 L464.74,136.20 L466.02,136.50 L467.30,136.80 L468.57,137.10 L469.85,137.39 L471.13,137.68 L472.41,137.97 L473.69,138.25 L474.97,138.52 L476.25,138.80 L477.52,139.06 L478.80,139.33 L480.08,139.59 L481.36,139.85 L482.64,140.11 L483.92,140.36 L485.20,140.61 L486.48,140.85 L487.75,141.09 L489.03,141.33 L490.31,141.57 L491.59,141.80 L492.87,142.03 L494.15,142.26 L495.43,142.48 L496.70,142.71 L497.98,142.93 L499.26,143.14 L500.54,143.36 L501.82,143.57 L503.10,143.78 L504.38,143.99 L505.65,144.19 L506.93,144.39 L508.21,144.59 L509.49,144.79 L510.77,144.99 L512.05,145.18 L513.33,145.37 L514.61,145.56 L515.88,145.75 L517.16,145.94 L518.44,146.12 L519.72,146.30 L521.00,146.48 L522.28,146.66 L523.56,146.84 L524.83,147.01 L526.11,147.19 L527.39,147.36 L528.67,147.53 L529.95,147.70 L531.23,147.86 L532.51,148.03 L533.78,148.19 L535.06,148.35 L536.34,148.51 L537.62,148.67 L538.90,148.83 L540.18,148.99 L541.46,149.14 L542.74,149.30 L544.01,149.45 L545.29,149.60 L546.57,149.75 L547.85,149.90 L549.13,150.05 L550.41,150.19 L551.69,150.34 L552.96,150.48 L554.24,150.62 L555.52,150.77 L556.80,150.91 L558.08,151.05 L559.36,151.18 L560.64,151.32 L561.91,151.46 L563.19,151.59 L564.47,151.73 L565.75,151.86 L567.03,151.99 L568.31,152.13 L569.59,152.26 L570.87,152.39 L572.14,152.52 L573.42,152.64 L574.70,152.77 L575.98,152.90 L577.26,153.02 L578.54,153.15 L579.82,153.27 L581.09,153.39 L582.37,153.52 L583.65,153.64 L584.93,153.76 L586.21,153.88 L587.49,154.00 L588.77,154.12 L590.05,154.24 L591.32,154.35 L592.60,154.47 L593.88,154.59 L595.16,154.70 L596.44,154.82 L597.72,154.93 L599.00,155.04 L600.27,155.16 L601.55,155.27 L602.83,155.38 L604.11,155.49 L605.39,155.60 L606.67,155.71 L607.95,155.82 L609.22,155.93 L610.50,156.04 L611.78,156.15 L613.06,156.26 L614.34,156.36 L615.62,156.47 L616.90,156.58 L618.17,156.68 L619.45,156.79 L620.73,156.89 L622.01,157.00 L623.29,157.10 L624.57,157.20 L625.85,157.31 L627.13,157.41 L628.40,157.51 L629.68,157.61 L630.96,157.71 L632.24,157.81 L633.52,157.91 L634.80,158.01 L636.08,158.11 L637.35,158.21 L638.63,158.31 L639.91,158.41 L641.19,158.51 L642.47,158.61 L643.75,158.71 L645.03,158.80 L646.31,158.90 L647.58,159.00 L648.86,159.09 L650.14,159.19 L651.42,159.28 L652.70,159.38 L653.98,159.47 L655.26,159.57 L656.53,159.66 L657.81,159.76 L659.09,159.85 L660.37,159.95 L661.65,160.04 L662.93,160.13 L664.21,160.22 L665.48,160.32 L666.76,160.41 L668.04,160.50 L669.32,160.59 L670.60,160.69 L671.88,160.78 L673.16,160.87 L674.43,160.96 L675.71,161.05 L676.99,161.14 L678.27,161.23 L679.55,161.32 L680.83,161.41 L682.11,161.50 L683.39,161.59 L684.66,161.68 L685.94,161.77 L687.22,161.86 L688.50,161.94" fill="none" stroke="#d62728" stroke-width="1.3" stroke-linejoin="round"/>
<g fill="#d62728" stroke="#d62728" stroke-width="0.6"><path d="M411.81,114.77L411.81,118.87L407.71,116.82Z"/><path d="M416.92,117.29L416.92,121.39L412.82,119.34Z"/><path d="M422.04,119.62L422.04,123.72L417.94,121.67Z"/><path d="M427.15,121.77L427.15,125.87L423.05,123.82Z"/><path d="M432.27,123.77L432.27,127.87L428.17,125.82Z"/><path d="M437.38,125.62L437.38,129.72L433.28,127.67Z"/><path d="M442.49,127.35L442.49,131.45L438.39,129.40Z"/><path d="M447.61,128.96L447.61,133.06L443.51,131.01Z"/><path d="M452.72,130.46L452.72,134.56L448.62,132.51Z"/><path d="M457.84,131.88L457.84,135.98L453.74,133.93Z"/><path d="M462.95,133.20L462.95,137.30L458.85,135.25Z"/><path d="M468.07,134.45L468.07,138.55L463.97,136.50Z"/><path d="M473.18,135.63L473.18,139.73L469.08,137.68Z"/><path d="M478.30,136.75L478.30,140.85L474.20,138.80Z"/><path d="M483.41,137.80L483.41,141.90L479.31,139.85Z"/><path d="M488.53,138.80L488.53,142.90L484.43,140.85Z"/><path d="M493.64,139.75L493.64,143.85L489.54,141.80Z"/><path d="M498.75,140.66L498.75,144.76L494.65,142.71Z"/><path d="M503.87,141.52L503.87,145.62L499.77,143.57Z"/><path d="M508.98,142.34L508.98,146.44L504.88,144.39Z"/><path d="M514.10,143.13L514.10,147.23L510.00,145.18Z"/><path d="M519.21,143.89L519.21,147.99L515.11,145.94Z"/><path d="M524.33,144.61L524.33,148.71L520.23,146.66Z"/><path d="M529.44,145.31L529.44,149.41L525.34,147.36Z"/><path d="M534.56,145.98L534.56,150.08L530.46,148.03Z"/><path d="M539.67,146.62L539.67,150.72L535.57,148.67Z"/><path d="M544.79,147.25L544.79,151.35L540.69,149.30Z"/><path d="M549.90,147.85L549.90,151.95L545.80,149.90Z"/><path d="M555.01,148.43L555.01,152.53L550.91,150.48Z"/><path d="M560.13,149.00L560.13,153.10L556.03,151.05Z"/><path d="M565.24,149.54L565.24,153.64L561.14,151.59Z"/><path d="M570.36,150.08L570.36,154.18L566.26,152.13Z"/><path d="M575.47,150.59L575.47,154.69L571.37,152.64Z"/><path d="M580.59,151.10L580.59,155.20L576.49,153.15Z"/><path d="M585.70,151.59L585.70,155.69L581.60,153.64Z"/><path d="M590.82,152.07L590.82,156.17L586.72,154.12Z"/><path d="M595.93,152.54L595.93,156.64L591.83,154.59Z"/><path d="M601.05,152.99L601.05,157.09L596.95,155.04Z"/><path d="M606.16,153.44L606.16,157.54L602.06,155.49Z"/><path d="M611.27,153.88L611.27,157.98L607.17,155.93Z"/><path d="M616.39,154.31L616.39,158.41L612.29,156.36Z"/><path d="M621.50,154.74L621.50,158.84L617.40,156.79Z"/><path d="M626.62,155.15L626.62,159.25L622.52,157.20Z"/><path d="M631.73,155.56L631.73,159.66L627.63,157.61Z"/><path d="M636.85,155.96L636.85,160.06L632.75,158.01Z"/><path d="M641.96,156.36L641.96,160.46L637.86,158.41Z"/><path d="M647.08,156.75L647.08,160.85L642.98,158.80Z"/><path d="M652.19,157.14L652.19,161.24L648.09,159.19Z"/><path d="M657.31,157.52L657.31,161.62L653.21,159.57Z"/><path d="M662.42,157.90L662.42,162.00L658.32,159.95Z"/><path d="M667.53,158.27L667.53,162.37L663.43,160.32Z"/><path d="M672.65,158.64L672.65,162.74L668.55,160.69Z"/><path d="M677.76,159.00L677.76,163.10L673.66,161.05Z"/><path d="M682.88,159.36L682.88,163.46L678.78,161.41Z"/><path d="M687.99,159.72L687.99,163.82L683.89,161.77Z"/></g>
</g>
<g clip-path="url(#cr)">
<path d="M407.20,115.73 L408.48,116.60 L409.76,117.46 L411.04,118.30 L412.31,119.13 L413.59,119.95 L414.87,120.76 L416.15,121.55 L417.43,122.33 L418.71,123.10 L419.99,123.86 L421.26,124.61 L422.54,125.35 L423.82,126.08 L425.10,126.79 L426.38,127.50 L427.66,128.19 L428.94,128.88 L430.22,129.56 L431.49,130.23 L432.77,130.89 L434.05,131.54 L435.33,132.18 L436.61,132.81 L437.89,133.44 L439.17,134.06 L440.44,134.67 L441.72,135.27 L443.00,135.87 L444.28,136.45 L445.56,137.04 L446.84,137.61 L448.12,138.18 L449.39,138.74 L450.67,139.29 L451.95,139.84 L453.23,140.38 L454.51,140.91 L455.79,141.44 L457.07,141.97 L458.35,142.48 L459.62,143.00 L460.90,143.50 L462.18,144.00 L463.46,144.50 L464.74,144.99 L466.02,145.47 L467.30,145.95 L468.57,146.43 L469.85,146.90 L471.13,147.36 L472.41,147.82 L473.69,148.28 L474.97,148.73 L476.25,149.18 L477.52,149.62 L478.80,150.06 L480.08,150.49 L481.36,150.92 L482.64,151.35 L483.92,151.77 L485.20,152.19 L486.48,152.61 L487.75,153.02 L489.03,153.42 L490.31,153.83 L491.59,154.23 L492.87,154.62 L494.15,155.02 L495.43,155.41 L496.70,155.79 L497.98,156.18 L499.26,156.55 L500.54,156.93 L501.82,157.30 L503.10,157.67 L504.38,158.04 L505.65,158.41 L506.93,158.77 L508.21,159.13 L509.49,159.48 L510.77,159.83 L512.05,160.18 L513.33,160.53 L514.61,160.88 L515.88,161.22 L517.16,161.56 L518.44,161.89 L519.72,162.23 L521.00,162.56 L522.28,162.89 L523.56,163.22 L524.83,163.54 L526.11,163.87 L527.39,164.19 L528.67,164.50 L529.95,164.82 L531.23,165.13 L532.51,165.44 L533.78,165.75 L535.06,166.06 L536.34,166.36 L537.62,166.67 L538.90,166.97 L540.18,167.27 L541.46,167.56 L542.74,167.86 L544.01,168.15 L545.29,168.44 L546.57,168.73 L547.85,169.02 L549.13,169.31 L550.41,169.59 L551.69,169.87 L552.96,170.15 L554.24,170.43 L555.52,170.71 L556.80,170.98 L558.08,171.26 L559.36,171.53 L560.64,171.80 L561.91,172.07 L563.19,172.34 L564.47,172.60 L565.75,172.87 L567.03,173.13 L568.31,173.39 L569.59,173.65 L570.87,173.91 L572.14,174.17 L573.42,174.42 L574.70,174.68 L575.98,174.93 L577.26,175.18 L578.54,175.43 L579.82,175.68 L581.09,175.93 L582.37,176.18 L583.65,176.42 L584.93,176.67 L586.21,176.91 L587.49,177.15 L588.77,177.39 L590.05,177.63 L591.32,177.87 L592.60,178.10 L593.88,178.34 L595.16,178.57 L596.44,178.81 L597.72,179.04 L599.00,179.27 L600.27,179.50 L601.55,179.73 L602.83,179.95 L604.11,180.18 L605.39,180.41 L606.67,180.63 L607.95,180.85 L609.22,181.08 L610.50,181.30 L611.78,181.52 L613.06,181.74 L614.34,181.96 L615.62,182.17 L616.90,182.39 L618.17,182.61 L619.45,182.82 L620.73,183.04 L622.01,183.25 L623.29,183.46 L624.57,183.67 L625.85,183.88 L627.13,184.09 L628.40,184.30 L629.68,184.51 L630.96,184.72 L632.24,184.92 L633.52,185.13 L634.80,185.33 L636.08,185.53 L637.35,185.74 L638.63,185.94 L639.91,186.14 L641.19,186.34 L642.47,186.54 L643.75,186.74 L645.03,186.94 L646.31,187.14 L647.58,187.33 L648.86,187.53 L650.14,187.72 L651.42,187.92 L652.70,188.11 L653.98,188.31 L655.26,188.50 L656.53,188.69 L657.81,188.88 L659.09,189.07 L660.37,189.26 L661.65,189.45 L662.93,189.64 L664.21,189.83 L665.48,190.01 L666.76,190.20 L668.04,190.39 L669.32,190.57 L670.60,190.76 L671.88,190.94 L673.16,191.12 L674.43,191.31 L675.71,191.49 L676.99,191.67 L678.27,191.85 L679.55,192.03 L680.83,192.21 L682.11,192.39 L683.39,192.57 L684.66,192.75 L685.94,192.93 L687.22,193.10 L688.50,193.28" fill="none" stroke="#9467bd" stroke-width="1.3" stroke-linejoin="round"/>
<g stroke="#9467bd"><path d="M409.76,115.21V119.71" fill="none" stroke-width="0.9"/><path d="M414.87,118.51V123.01" fill="none" stroke-width="0.9"/><path d="M419.99,121.61V126.11" fill="none" stroke-width="0.9"/><path d="M425.10,124.54V129.04" fill="none" stroke-width="0.9"/><path d="M430.22,127.31V131.81" fill="none" stroke-width="0.9"/><path d="M435.33,129.93V134.43" fill="none" stroke-width="0.9"/><path d="M440.44,132.42V136.92" fill="none" stroke-width="0.9"/><path d="M445.56,134.79V139.29" fill="none" stroke-width="0.9"/><path d="M450.67,137.04V141.54" fill="none" stroke-width="0.9"/><path d="M455.79,139.19V143.69" fill="none" stroke-width="0.9"/><path d="M460.90,141.25V145.75" fill="none" stroke-width="0.9"/><path d="M466.02,143.22V147.72" fill="none" stroke-width="0.9"/><path d="M471.13,145.11V149.61" fill="none" stroke-width="0.9"/><path d="M476.25,146.93V151.43" fill="none" stroke-width="0.9"/><path d="M481.36,148.67V153.17" fill="none" stroke-width="0.9"/><path d="M486.48,150.36V154.86" fill="none" stroke-width="0.9"/><path d="M491.59,151.98V156.48" fill="none" stroke-width="0.9"/><path d="M496.70,153.54V158.04" fill="none" stroke-width="0.9"/><path d="M501.82,155.05V159.55" fill="none" stroke-width="0.9"/><path d="M506.93,156.52V161.02" fill="none" stroke-width="0.9"/><path d="M512.05,157.93V162.43" fill="none" stroke-width="0.9"/><path d="M517.16,159.31V163.81" fill="none" stroke-width="0.9"/><path d="M522.28,160.64V165.14" fill="none" stroke-width="0.9"/><path d="M527.39,161.94V166.44" fill="none" stroke-width="0.9"/><path d="M532.51,163.19V167.69" fill="none" stroke-width="0.9"/><path d="M537.62,164.42V168.92" fill="none" stroke-width="0.9"/><path d="M542.74,165.61V170.11" fill="none" stroke-width="0.9"/><path d="M547.85,166.77V171.27" fill="none" stroke-width="0.9"/><path d="M552.96,167.90V172.40" fill="none" stroke-width="0.9"/><path d="M558.08,169.01V173.51" fill="none" stroke-width="0.9"/><path d="M563.19,170.09V174.59" fill="none" stroke-width="0.9"/><path d="M568.31,171.14V175.64" fill="none" stroke-width="0.9"/><path d="M573.42,172.17V176.67" fill="none" stroke-width="0.9"/><path d="M578.54,173.18V177.68" fill="none" stroke-width="0.9"/><path d="M583.65,174.17V178.67" fill="none" stroke-width="0.9"/><path d="M588.77,175.14V179.64" fill="none" stroke-width="0.9"/><path d="M593.88,176.09V180.59" fill="none" stroke-width="0.9"/><path d="M599.00,177.02V181.52" fill="none" stroke-width="0.9"/><path d="M604.11,177.93V182.43" fill="none" stroke-width="0.9"/><path d="M609.22,178.83V183.33" fill="none" stroke-width="0.9"/><path d="M614.34,179.71V184.21" fill="none" stroke-width="0.9"/><path d="M619.45,180.57V185.07" fill="none" stroke-width="0.9"/><path d="M624.57,181.42V185.92" fill="none" stroke-width="0.9"/><path d="M629.68,182.26V186.76" fill="none" stroke-width="0.9"/><path d="M634.80,183.08V187.58" fill="none" stroke-width="0.9"/><path d="M639.91,183.89V188.39" fill="none" stroke-width="0.9"/><path d="M645.03,184.69V189.19" fill="none" stroke-width="0.9"/><path d="M650.14,185.47V189.97" fill="none" stroke-width="0.9"/><path d="M655.26,186.25V190.75" fill="none" stroke-width="0.9"/><path d="M660.37,187.01V191.51" fill="none" stroke-width="0.9"/><path d="M665.48,187.76V192.26" fill="none" stroke-width="0.9"/><path d="M670.60,188.51V193.01" fill="none" stroke-width="0.9"/><path d="M675.71,189.24V193.74" fill="none" stroke-width="0.9"/><path d="M680.83,189.96V194.46" fill="none" stroke-width="0.9"/><path d="M685.94,190.68V195.18" fill="none" stroke-width="0.9"/></g>
</g>
<g clip-path="url(#cr)">
<path d="M407.20,115.26 L408.48,116.10 L409.76,116.93 L411.04,117.76 L412.31,118.57 L413.59,119.38 L414.87,120.18 L416.15,120.98 L417.43,121.77 L418.71,122.55 L419.99,123.32 L421.26,124.09 L422.54,124.85 L423.82,125.60 L425.10,126.35 L426.38,127.09 L427.66,127.82 L428.94,128.55 L430.22,129.27 L431.49,129.99 L432.77,130.70 L434.05,131.40 L435.33,132.10 L436.61,132.79 L437.89,133.48 L439.17,134.16 L440.44,134.83 L441.72,135.50 L443.00,136.16 L444.28,136.82 L445.56,137.47 L446.84,138.12 L448.12,138.76 L449.39,139.39 L450.67,140.03 L451.95,140.65 L453.23,141.27 L454.51,141.89 L455.79,142.50 L457.07,143.10 L458.35,143.70 L459.62,144.30 L460.90,144.89 L462.18,145.47 L463.46,146.06 L464.74,146.63 L466.02,147.21 L467.30,147.77 L468.57,148.34 L469.85,148.89 L471.13,149.45 L472.41,150.00 L473.69,150.54 L474.97,151.09 L476.25,151.62 L477.52,152.16 L478.80,152.68 L480.08,153.21 L481.36,153.73 L482.64,154.25 L483.92,154.76 L485.20,155.27 L486.48,155.77 L487.75,156.27 L489.03,156.77 L490.31,157.26 L491.59,157.75 L492.87,158.24 L494.15,158.72 L495.43,159.20 L496.70,159.68 L497.98,160.15 L499.26,160.61 L500.54,161.08 L501.82,161.54 L503.10,162.00 L504.38,162.45 L505.65,162.90 L506.93,163.35 L508.21,163.79 L509.49,164.24 L510.77,164.67 L512.05,165.11 L513.33,165.54 L514.61,165.97 L515.88,166.39 L517.16,166.81 L518.44,167.23 L519.72,167.65 L521.00,168.06 L522.28,168.47 L523.56,168.88 L524.83,169.28 L526.11,169.68 L527.39,170.08 L528.67,170.48 L529.95,170.87 L531.23,171.26 L532.51,171.65 L533.78,172.03 L535.06,172.41 L536.34,172.79 L537.62,173.17 L538.90,173.54 L540.18,173.91 L541.46,174.28 L542.74,174.65 L544.01,175.01 L545.29,175.37 L546.57,175.73 L547.85,176.08 L549.13,176.44 L550.41,176.79 L551.69,177.14 L552.96,177.48 L554.24,177.83 L555.52,178.17 L556.80,178.50 L558.08,178.84 L559.36,179.18 L560.64,179.51 L561.91,179.84 L563.19,180.16 L564.47,180.49 L565.75,180.81 L567.03,181.13 L568.31,181.45 L569.59,181.77 L570.87,182.08 L572.14,182.39 L573.42,182.70 L574.70,183.01 L575.98,183.32 L577.26,183.62 L578.54,183.92 L579.82,184.22 L581.09,184.52 L582.37,184.81 L583.65,185.11 L584.93,185.40 L586.21,185.69 L587.49,185.98 L588.77,186.26 L590.05,186.55 L591.32,186.83 L592.60,187.11 L593.88,187.39 L595.16,187.66 L596.44,187.94 L597.72,188.21 L599.00,188.48 L600.27,188.75 L601.55,189.02 L602.83,189.28 L604.11,189.55 L605.39,189.81 L606.67,190.07 L607.95,190.33 L609.22,190.59 L610.50,190.84 L611.78,191.10 L613.06,191.35 L614.34,191.60 L615.62,191.85 L616.90,192.09 L618.17,192.34 L619.45,192.58 L620.73,192.82 L622.01,193.06 L623.29,193.30 L624.57,193.54 L625.85,193.78 L627.13,194.01 L628.40,194.24 L629.68,194.48 L630.96,194.71 L632.24,194.93 L633.52,195.16 L634.80,195.39 L636.08,195.61 L637.35,195.83 L638.63,196.05 L639.91,196.27 L641.19,196.49 L642.47,196.71 L643.75,196.92 L645.03,197.14 L646.31,197.35 L647.58,197.56 L648.86,197.77 L650.14,197.98 L651.42,198.19 L652.70,198.39 L653.98,198.60 L655.26,198.80 L656.53,199.00 L657.81,199.20 L659.09,199.40 L660.37,199.60 L661.65,199.80 L662.93,199.99 L664.21,200.18 L665.48,200.38 L666.76,200.57 L668.04,200.76 L669.32,200.95 L670.60,201.14 L671.88,201.32 L673.16,201.51 L674.43,201.69 L675.71,201.88 L676.99,202.06 L678.27,202.24 L679.55,202.42 L680.83,202.60 L682.11,202.77 L683.39,202.95 L684.66,203.12 L685.94,203.30 L687.22,203.47 L688.50,203.64" fill="none" stroke="#8c564b" stroke-width="1.3" stroke-linejoin="round"/>
<g fill="#8c564b" stroke="#8c564b" stroke-width="0.6"><path d="M409.76,114.13L411.66,116.93L409.76,119.73L407.86,116.93Z"/><path d="M414.87,117.38L416.77,120.18L414.87,122.98L412.97,120.18Z"/><path d="M419.99,120.52L421.89,123.32L419.99,126.12L418.09,123.32Z"/><path d="M425.10,123.55L427.00,126.35L425.10,129.15L423.20,126.35Z"/><path d="M430.22,126.47L432.12,129.27L430.22,132.07L428.32,129.27Z"/><path d="M435.33,129.30L437.23,132.10L435.33,134.90L433.43,132.10Z"/><path d="M440.44,132.03L442.34,134.83L440.44,137.63L438.54,134.83Z"/><path d="M445.56,134.67L447.46,137.47L445.56,140.27L443.66,137.47Z"/><path d="M450.67,137.23L452.57,140.03L450.67,142.83L448.77,140.03Z"/><path d="M455.79,139.70L457.69,142.50L455.79,145.30L453.89,142.50Z"/><path d="M460.90,142.09L462.80,144.89L460.90,147.69L459.00,144.89Z"/><path d="M466.02,144.41L467.92,147.21L466.02,150.01L464.12,147.21Z"/><path d="M471.13,146.65L473.03,149.45L471.13,152.25L469.23,149.45Z"/><path d="M476.25,148.82L478.15,151.62L476.25,154.42L474.35,151.62Z"/><path d="M481.36,150.93L483.26,153.73L481.36,156.53L479.46,153.73Z"/><path d="M486.48,152.97L488.38,155.77L486.48,158.57L484.58,155.77Z"/><path d="M491.59,154.95L493.49,157.75L491.59,160.55L489.69,157.75Z"/><path d="M496.70,156.88L498.60,159.68L496.70,162.48L494.80,159.68Z"/><path d="M501.82,158.74L503.72,161.54L501.82,164.34L499.92,161.54Z"/><path d="M506.93,160.55L508.83,163.35L506.93,166.15L505.03,163.35Z"/><path d="M512.05,162.31L513.95,165.11L512.05,167.91L510.15,165.11Z"/><path d="M517.16,164.01L519.06,166.81L517.16,169.61L515.26,166.81Z"/><path d="M522.28,165.67L524.18,168.47L522.28,171.27L520.38,168.47Z"/><path d="M527.39,167.28L529.29,170.08L527.39,172.88L525.49,170.08Z"/><path d="M532.51,168.85L534.41,171.65L532.51,174.45L530.61,171.65Z"/><path d="M537.62,170.37L539.52,173.17L537.62,175.97L535.72,173.17Z"/><path d="M542.74,171.85L544.64,174.65L542.74,177.45L540.84,174.65Z"/><path d="M547.85,173.28L549.75,176.08L547.85,178.88L545.95,176.08Z"/><path d="M552.96,174.68L554.86,177.48L552.96,180.28L551.06,177.48Z"/><path d="M558.08,176.04L559.98,178.84L558.08,181.64L556.18,178.84Z"/><path d="M563.19,177.36L565.09,180.16L563.19,182.96L561.29,180.16Z"/><path d="M568.31,178.65L570.21,181.45L568.31,184.25L566.41,181.45Z"/><path d="M573.42,179.90L575.32,182.70L573.42,185.50L571.52,182.70Z"/><path d="M578.54,181.12L580.44,183.92L578.54,186.72L576.64,183.92Z"/><path d="M583.65,182.31L585.55,185.11L583.65,187.91L581.75,185.11Z"/><path d="M588.77,183.46L590.67,186.26L588.77,189.06L586.87,186.26Z"/><path d="M593.88,184.59L595.78,187.39L593.88,190.19L591.98,187.39Z"/><path d="M599.00,185.68L600.90,188.48L599.00,191.28L597.10,188.48Z"/><path d="M604.11,186.75L606.01,189.55L604.11,192.35L602.21,189.55Z"/><path d="M609.22,187.79L611.12,190.59L609.22,193.39L607.32,190.59Z"/><path d="M614.34,188.80L616.24,191.60L614.34,194.40L612.44,191.60Z"/><path d="M619.45,189.78L621.35,192.58L619.45,195.38L617.55,192.58Z"/><path d="M624.57,190.74L626.47,193.54L624.57,196.34L622.67,193.54Z"/><path d="M629.68,191.68L631.58,194.48L629.68,197.28L627.78,194.48Z"/><path d="M634.80,192.59L636.70,195.39L634.80,198.19L632.90,195.39Z"/><path d="M639.91,193.47L641.81,196.27L639.91,199.07L638.01,196.27Z"/><path d="M645.03,194.34L646.93,197.14L645.03,199.94L643.13,197.14Z"/><path d="M650.14,195.18L652.04,197.98L650.14,200.78L648.24,197.98Z"/><path d="M655.26,196.00L657.16,198.80L655.26,201.60L653.36,198.80Z"/><path d="M660.37,196.80L662.27,199.60L660.37,202.40L658.47,199.60Z"/><path d="M665.48,197.58L667.38,200.38L665.48,203.18L663.58,200.38Z"/><path d="M670.60,198.34L672.50,201.14L670.60,203.94L668.70,201.14Z"/><path d="M675.71,199.08L677.61,201.88L675.71,204.68L673.81,201.88Z"/><path d="M680.83,199.80L682.73,202.60L680.83,205.40L678.93,202.60Z"/><path d="M685.94,200.50L687.84,203.30L685.94,206.10L684.04,203.30Z"/></g>
</g>
<g clip-path="url(#cr)">
<path d="M407.20,152.04 L408.48,152.28 L409.76,152.52 L411.04,152.76 L412.31,152.99 L413.59,153.22 L414.87,153.45 L416.15,153.67 L417.43,153.90 L418.71,154.12 L419.99,154.34 L421.26,154.56 L422.54,154.77 L423.82,154.99 L425.10,155.20 L426.38,155.41 L427.66,155.62 L428.94,155.82 L430.22,156.03 L431.49,156.23 L432.77,156.43 L434.05,156.63 L435.33,156.83 L436.61,157.02 L437.89,157.22 L439.17,157.41 L440.44,157.60 L441.72,157.79 L443.00,157.98 L444.28,158.16 L445.56,158.35 L446.84,158.53 L448.12,158.71 L449.39,158.89 L450.67,159.07 L451.95,159.25 L453.23,159.43 L454.51,159.60 L455.79,159.77 L457.07,159.95 L458.35,160.12 L459.62,160.29 L460.90,160.46 L462.18,160.62 L463.46,160.79 L464.74,160.96 L466.02,161.12 L467.30,161.28 L468.57,161.44 L469.85,161.60 L471.13,161.76 L472.41,161.92 L473.69,162.08 L474.97,162.23 L476.25,162.39 L477.52,162.54 L478.80,162.70 L480.08,162.85 L481.36,163.00 L482.64,163.15 L483.92,163.30 L485.20,163.45 L486.48,163.59 L487.75,163.74 L489.03,163.89 L490.31,164.03 L491.59,164.17 L492.87,164.32 L494.15,164.46 L495.43,164.60 L496.70,164.74 L497.98,164.88 L499.26,165.02 L500.54,165.15 L501.82,165.29 L503.10,165.43 L504.38,165.56 L505.65,165.70 L506.93,165.83 L508.21,165.96 L509.49,166.09 L510.77,166.22 L512.05,166.36 L513.33,166.48 L514.61,166.61 L515.88,166.74 L517.16,166.87 L518.44,167.00 L519.72,167.12 L521.00,167.25 L522.28,167.37 L523.56,167.50 L524.83,167.62 L526.11,167.74 L527.39,167.87 L528.67,167.99 L529.95,168.11 L531.23,168.23 L532.51,168.35 L533.78,168.47 L535.06,168.58 L536.34,168.70 L537.62,168.82 L538.90,168.94 L540.18,169.05 L541.46,169.17 L542.74,169.28 L544.01,169.40 L545.29,169.51 L546.57,169.62 L547.85,169.74 L549.13,169.85 L550.41,169.96 L551.69,170.07 L552.96,170.18 L554.24,170.29 L555.52,170.40 L556.80,170.51 L558.08,170.62 L559.36,170.72 L560.64,170.83 L561.91,170.94 L563.19,171.04 L564.47,171.15 L565.75,171.25 L567.03,171.36 L568.31,171.46 L569.59,171.57 L570.87,171.67 L572.14,171.77 L573.42,171.88 L574.70,171.98 L575.98,172.08 L577.26,172.18 L578.54,172.28 L579.82,172.38 L581.09,172.48 L582.37,172.58 L583.65,172.68 L584.93,172.78 L586.21,172.88 L587.49,172.97 L588.77,173.07 L590.05,173.17 L591.32,173.26 L592.60,173.36 L593.88,173.46 L595.16,173.55 L596.44,173.64 L597.72,173.74 L599.00,173.83 L600.27,173.93 L601.55,174.02 L602.83,174.11 L604.11,174.21 L605.39,174.30 L606.67,174.39 L607.95,174.48 L609.22,174.57 L610.50,174.66 L611.78,174.75 L613.06,174.84 L614.34,174.93 L615.62,175.02 L616.90,175.11 L618.17,175.20 L619.45,175.29 L620.73,175.37 L622.01,175.46 L623.29,175.55 L624.57,175.63 L625.85,175.72 L627.13,175.81 L628.40,175.89 L629.68,175.98 L630.96,176.06 L632.24,176.15 L633.52,176.23 L634.80,176.32 L636.08,176.40 L637.35,176.48 L638.63,176.57 L639.91,176.65 L641.19,176.73 L642.47,176.82 L643.75,176.90 L645.03,176.98 L646.31,177.06 L647.58,177.14 L648.86,177.22 L650.14,177.30 L651.42,177.38 L652.70,177.46 L653.98,177.54 L655.26,177.62 L656.53,177.70 L657.81,177.78 L659.09,177.86 L660.37,177.94 L661.65,178.02 L662.93,178.09 L664.21,178.17 L665.48,178.25 L666.76,178.33 L668.04,178.40 L669.32,178.48 L670.60,178.56 L671.88,178.63 L673.16,178.71 L674.43,178.78 L675.71,178.86 L676.99,178.93 L678.27,179.01 L679.55,179.08 L680.83,179.16 L682.11,179.23 L683.39,179.30 L684.66,179.38 L685.94,179.45 L687.22,179.52 L688.50,179.60" fill="none" stroke="#e377c2" stroke-width="1.3" stroke-linejoin="round"/>
<g fill="#e377c2" stroke="#e377c2" stroke-width="0.6"><path d="M409.76,150.02 L410.35,151.71 L412.13,151.75 L410.71,152.83 L411.23,154.54 L409.76,153.52 L408.29,154.54 L408.81,152.83 L407.38,151.75 L409.17,151.71Z"/><path d="M414.87,150.95 L415.46,152.64 L417.25,152.68 L415.82,153.76 L416.34,155.47 L414.87,154.45 L413.40,155.47 L413.92,153.76 L412.49,152.68 L414.28,152.64Z"/><path d="M419.99,151.84 L420.57,153.53 L422.36,153.57 L420.94,154.65 L421.46,156.36 L419.99,155.34 L418.52,156.36 L419.04,154.65 L417.61,153.57 L419.40,153.53Z"/><path d="M425.10,152.70 L425.69,154.39 L427.48,154.43 L426.05,155.51 L426.57,157.22 L425.10,156.20 L423.63,157.22 L424.15,155.51 L422.72,154.43 L424.51,154.39Z"/><path d="M430.22,153.53 L430.80,155.22 L432.59,155.25 L431.17,156.34 L431.68,158.05 L430.22,157.03 L428.75,158.05 L429.26,156.34 L427.84,155.25 L429.63,155.22Z"/><path d="M435.33,154.33 L435.92,156.02 L437.71,156.05 L436.28,157.14 L436.80,158.85 L435.33,157.83 L433.86,158.85 L434.38,157.14 L432.95,156.05 L434.74,156.02Z"/><path d="M440.44,155.10 L441.03,156.79 L442.82,156.83 L441.40,157.91 L441.91,159.62 L440.44,158.60 L438.98,159.62 L439.49,157.91 L438.07,156.83 L439.86,156.79Z"/><path d="M445.56,155.85 L446.15,157.54 L447.94,157.57 L446.51,158.66 L447.03,160.37 L445.56,159.35 L444.09,160.37 L444.61,158.66 L443.18,157.57 L444.97,157.54Z"/><path d="M450.67,156.57 L451.26,158.26 L453.05,158.30 L451.62,159.38 L452.14,161.09 L450.67,160.07 L449.20,161.09 L449.72,159.38 L448.30,158.30 L450.09,158.26Z"/><path d="M455.79,157.27 L456.38,158.97 L458.17,159.00 L456.74,160.08 L457.26,161.80 L455.79,160.77 L454.32,161.80 L454.84,160.08 L453.41,159.00 L455.20,158.97Z"/><path d="M460.90,157.96 L461.49,159.65 L463.28,159.68 L461.85,160.77 L462.37,162.48 L460.90,161.46 L459.43,162.48 L459.95,160.77 L458.53,159.68 L460.31,159.65Z"/><path d="M466.02,158.62 L466.61,160.31 L468.39,160.35 L466.97,161.43 L467.49,163.14 L466.02,162.12 L464.55,163.14 L465.07,161.43 L463.64,160.35 L465.43,160.31Z"/><path d="M471.13,159.26 L471.72,160.95 L473.51,160.99 L472.08,162.07 L472.60,163.79 L471.13,162.76 L469.66,163.79 L470.18,162.07 L468.75,160.99 L470.54,160.95Z"/><path d="M476.25,159.89 L476.83,161.58 L478.62,161.62 L477.20,162.70 L477.72,164.41 L476.25,163.39 L474.78,164.41 L475.30,162.70 L473.87,161.62 L475.66,161.58Z"/><path d="M481.36,160.50 L481.95,162.19 L483.74,162.23 L482.31,163.31 L482.83,165.02 L481.36,164.00 L479.89,165.02 L480.41,163.31 L478.98,162.23 L480.77,162.19Z"/><path d="M486.48,161.09 L487.06,162.79 L488.85,162.82 L487.43,163.90 L487.94,165.62 L486.48,164.59 L485.01,165.62 L485.52,163.90 L484.10,162.82 L485.89,162.79Z"/><path d="M491.59,161.67 L492.18,163.36 L493.97,163.40 L492.54,164.48 L493.06,166.20 L491.59,165.17 L490.12,166.20 L490.64,164.48 L489.21,163.40 L491.00,163.36Z"/><path d="M496.70,162.24 L497.29,163.93 L499.08,163.97 L497.66,165.05 L498.17,166.76 L496.70,165.74 L495.24,166.76 L495.75,165.05 L494.33,163.97 L496.12,163.93Z"/><path d="M501.82,162.79 L502.41,164.48 L504.20,164.52 L502.77,165.60 L503.29,167.31 L501.82,166.29 L500.35,167.31 L500.87,165.60 L499.44,164.52 L501.23,164.48Z"/><path d="M506.93,163.33 L507.52,165.02 L509.31,165.06 L507.88,166.14 L508.40,167.85 L506.93,166.83 L505.46,167.85 L505.98,166.14 L504.56,165.06 L506.35,165.02Z"/><path d="M512.05,163.86 L512.64,165.55 L514.43,165.58 L513.00,166.66 L513.52,168.38 L512.05,167.36 L510.58,168.38 L511.10,166.66 L509.67,165.58 L511.46,165.55Z"/><path d="M517.16,164.37 L517.75,166.06 L519.54,166.10 L518.11,167.18 L518.63,168.89 L517.16,167.87 L515.69,168.89 L516.21,167.18 L514.79,166.10 L516.57,166.06Z"/><path d="M522.28,164.87 L522.87,166.56 L524.65,166.60 L523.23,167.68 L523.75,169.40 L522.28,168.37 L520.81,169.40 L521.33,167.68 L519.90,166.60 L521.69,166.56Z"/><path d="M527.39,165.37 L527.98,167.06 L529.77,167.09 L528.34,168.17 L528.86,169.89 L527.39,168.87 L525.92,169.89 L526.44,168.17 L525.01,167.09 L526.80,167.06Z"/><path d="M532.51,165.85 L533.09,167.54 L534.88,167.57 L533.46,168.66 L533.98,170.37 L532.51,169.35 L531.04,170.37 L531.56,168.66 L530.13,167.57 L531.92,167.54Z"/><path d="M537.62,166.32 L538.21,168.01 L540.00,168.05 L538.57,169.13 L539.09,170.84 L537.62,169.82 L536.15,170.84 L536.67,169.13 L535.24,168.05 L537.03,168.01Z"/><path d="M542.74,166.78 L543.32,168.47 L545.11,168.51 L543.69,169.59 L544.20,171.30 L542.74,170.28 L541.27,171.30 L541.78,169.59 L540.36,168.51 L542.15,168.47Z"/><path d="M547.85,167.24 L548.44,168.93 L550.23,168.96 L548.80,170.04 L549.32,171.76 L547.85,170.74 L546.38,171.76 L546.90,170.04 L545.47,168.96 L547.26,168.93Z"/><path d="M552.96,167.68 L553.55,169.37 L555.34,169.41 L553.92,170.49 L554.43,172.20 L552.96,171.18 L551.50,172.20 L552.01,170.49 L550.59,169.41 L552.38,169.37Z"/><path d="M558.08,168.12 L558.67,169.81 L560.46,169.84 L559.03,170.93 L559.55,172.64 L558.08,171.62 L556.61,172.64 L557.13,170.93 L555.70,169.84 L557.49,169.81Z"/><path d="M563.19,168.54 L563.78,170.23 L565.57,170.27 L564.14,171.35 L564.66,173.07 L563.19,172.04 L561.72,173.07 L562.24,171.35 L560.82,170.27 L562.61,170.23Z"/><path d="M568.31,168.96 L568.90,170.65 L570.69,170.69 L569.26,171.77 L569.78,173.49 L568.31,172.46 L566.84,173.49 L567.36,171.77 L565.93,170.69 L567.72,170.65Z"/><path d="M573.42,169.38 L574.01,171.07 L575.80,171.10 L574.37,172.19 L574.89,173.90 L573.42,172.88 L571.95,173.90 L572.47,172.19 L571.05,171.10 L572.83,171.07Z"/><path d="M578.54,169.78 L579.13,171.47 L580.91,171.51 L579.49,172.59 L580.01,174.30 L578.54,173.28 L577.07,174.30 L577.59,172.59 L576.16,171.51 L577.95,171.47Z"/><path d="M583.65,170.18 L584.24,171.87 L586.03,171.91 L584.60,172.99 L585.12,174.70 L583.65,173.68 L582.18,174.70 L582.70,172.99 L581.27,171.91 L583.06,171.87Z"/><path d="M588.77,170.57 L589.35,172.26 L591.14,172.30 L589.72,173.38 L590.24,175.09 L588.77,174.07 L587.30,175.09 L587.82,173.38 L586.39,172.30 L588.18,172.26Z"/><path d="M593.88,170.96 L594.47,172.65 L596.26,172.68 L594.83,173.76 L595.35,175.48 L593.88,174.46 L592.41,175.48 L592.93,173.76 L591.50,172.68 L593.29,172.65Z"/><path d="M599.00,171.33 L599.58,173.02 L601.37,173.06 L599.95,174.14 L600.46,175.86 L599.00,174.83 L597.53,175.86 L598.04,174.14 L596.62,173.06 L598.41,173.02Z"/><path d="M604.11,171.71 L604.70,173.40 L606.49,173.43 L605.06,174.51 L605.58,176.23 L604.11,175.21 L602.64,176.23 L603.16,174.51 L601.73,173.43 L603.52,173.40Z"/><path d="M609.22,172.07 L609.81,173.76 L611.60,173.80 L610.18,174.88 L610.69,176.59 L609.22,175.57 L607.76,176.59 L608.27,174.88 L606.85,173.80 L608.64,173.76Z"/><path d="M614.34,172.43 L614.93,174.12 L616.72,174.16 L615.29,175.24 L615.81,176.95 L614.34,175.93 L612.87,176.95 L613.39,175.24 L611.96,174.16 L613.75,174.12Z"/><path d="M619.45,172.79 L620.04,174.48 L621.83,174.51 L620.40,175.59 L620.92,177.31 L619.45,176.29 L617.98,177.31 L618.50,175.59 L617.08,174.51 L618.87,174.48Z"/><path d="M624.57,173.13 L625.16,174.83 L626.95,174.86 L625.52,175.94 L626.04,177.66 L624.57,176.63 L623.10,177.66 L623.62,175.94 L622.19,174.86 L623.98,174.83Z"/><path d="M629.68,173.48 L630.27,175.17 L632.06,175.21 L630.63,176.29 L631.15,178.00 L629.68,176.98 L628.21,178.00 L628.73,176.29 L627.31,175.21 L629.09,175.17Z"/><path d="M634.80,173.82 L635.39,175.51 L637.17,175.54 L635.75,176.63 L636.27,178.34 L634.80,177.32 L633.33,178.34 L633.85,176.63 L632.42,175.54 L634.21,175.51Z"/><path d="M639.91,174.15 L640.50,175.84 L642.29,175.88 L640.86,176.96 L641.38,178.67 L639.91,177.65 L638.44,178.67 L638.96,176.96 L637.53,175.88 L639.32,175.84Z"/><path d="M645.03,174.48 L645.61,176.17 L647.40,176.21 L645.98,177.29 L646.50,179.00 L645.03,177.98 L643.56,179.00 L644.08,177.29 L642.65,176.21 L644.44,176.17Z"/><path d="M650.14,174.80 L650.73,176.49 L652.52,176.53 L651.09,177.61 L651.61,179.33 L650.14,178.30 L648.67,179.33 L649.19,177.61 L647.76,176.53 L649.55,176.49Z"/><path d="M655.26,175.12 L655.84,176.81 L657.63,176.85 L656.21,177.93 L656.72,179.65 L655.26,178.62 L653.79,179.65 L654.30,177.93 L652.88,176.85 L654.67,176.81Z"/><path d="M660.37,175.44 L660.96,177.13 L662.75,177.17 L661.32,178.25 L661.84,179.96 L660.37,178.94 L658.90,179.96 L659.42,178.25 L657.99,177.17 L659.78,177.13Z"/><path d="M665.48,175.75 L666.07,177.44 L667.86,177.48 L666.44,178.56 L666.95,180.27 L665.48,179.25 L664.02,180.27 L664.53,178.56 L663.11,177.48 L664.90,177.44Z"/><path d="M670.60,176.06 L671.19,177.75 L672.98,177.78 L671.55,178.86 L672.07,180.58 L670.60,179.56 L669.13,180.58 L669.65,178.86 L668.22,177.78 L670.01,177.75Z"/><path d="M675.71,176.36 L676.30,178.05 L678.09,178.09 L676.66,179.17 L677.18,180.88 L675.71,179.86 L674.24,180.88 L674.76,179.17 L673.34,178.09 L675.13,178.05Z"/><path d="M680.83,176.66 L681.42,178.35 L683.21,178.38 L681.78,179.47 L682.30,181.18 L680.83,180.16 L679.36,181.18 L679.88,179.47 L678.45,178.38 L680.24,178.35Z"/><path d="M685.94,176.95 L686.53,178.64 L688.32,178.68 L686.89,179.76 L687.41,181.47 L685.94,180.45 L684.47,181.47 L684.99,179.76 L683.57,178.68 L685.35,178.64Z"/></g>
</g>
<line x1="62.95" y1="7.2" x2="62.95" y2="246.5" stroke="#ff0000" stroke-width="1.1" stroke-dasharray="3.3 1.5" stroke-dashoffset="-0.5"/>
<line x1="166.52" y1="7.2" x2="166.52" y2="246.5" stroke="#ff0000" stroke-width="1.1" stroke-dasharray="3.3 1.5" stroke-dashoffset="-0.5"/>
<line x1="174.19" y1="7.2" x2="174.19" y2="246.5" stroke="#ff0000" stroke-width="1.1" stroke-dasharray="3.3 1.5" stroke-dashoffset="-0.5"/>
<line x1="296.94" y1="7.2" x2="296.94" y2="246.5" stroke="#ff0000" stroke-width="1.1" stroke-dasharray="3.3 1.5" stroke-dashoffset="-0.5"/>
<line x1="416.15" y1="7.2" x2="416.15" y2="246.5" stroke="#ff0000" stroke-width="1.1" stroke-dasharray="3.3 1.5" stroke-dashoffset="-0.5"/>
<line x1="519.72" y1="7.2" x2="519.72" y2="246.5" stroke="#ff0000" stroke-width="1.1" stroke-dasharray="3.3 1.5" stroke-dashoffset="-0.5"/>
<line x1="527.39" y1="7.2" x2="527.39" y2="246.5" stroke="#ff0000" stroke-width="1.1" stroke-dasharray="3.3 1.5" stroke-dashoffset="-0.5"/>
<line x1="650.14" y1="7.2" x2="650.14" y2="246.5" stroke="#ff0000" stroke-width="1.1" stroke-dasharray="3.3 1.5" stroke-dashoffset="-0.5"/>
<rect x="54.0" y="7.2" width="281.30" height="239.3" fill="none" stroke="#222" stroke-width="1.0"/>
<line x1="79.57" y1="246.5" x2="79.57" y2="251.5" stroke="#000" stroke-width="1.2"/>
<line x1="130.72" y1="246.5" x2="130.72" y2="251.5" stroke="#000" stroke-width="1.2"/>
<line x1="181.86" y1="246.5" x2="181.86" y2="251.5" stroke="#000" stroke-width="1.2"/>
<line x1="233.01" y1="246.5" x2="233.01" y2="251.5" stroke="#000" stroke-width="1.2"/>
<line x1="284.15" y1="246.5" x2="284.15" y2="251.5" stroke="#000" stroke-width="1.2"/>
<line x1="335.30" y1="246.5" x2="335.30" y2="251.5" stroke="#000" stroke-width="1.2"/>
<line x1="49.0" y1="246.50" x2="54.0" y2="246.50" stroke="#000" stroke-width="1.2"/>
<line x1="49.0" y1="232.09" x2="54.0" y2="232.09" stroke="#000" stroke-width="1.2"/>
<line x1="49.0" y1="223.66" x2="54.0" y2="223.66" stroke="#000" stroke-width="1.2"/>
<line x1="49.0" y1="217.69" x2="54.0" y2="217.69" stroke="#000" stroke-width="1.2"/>
<line x1="49.0" y1="213.05" x2="54.0" y2="213.05" stroke="#000" stroke-width="1.2"/>
<line x1="49.0" y1="209.26" x2="54.0" y2="209.26" stroke="#000" stroke-width="1.2"/>
<line x1="49.0" y1="206.05" x2="54.0" y2="206.05" stroke="#000" stroke-width="1.2"/>
<line x1="49.0" y1="203.28" x2="54.0" y2="203.28" stroke="#000" stroke-width="1.2"/>
<line x1="49.0" y1="200.83" x2="54.0" y2="200.83" stroke="#000" stroke-width="1.2"/>
<line x1="49.0" y1="198.64" x2="54.0" y2="198.64" stroke="#000" stroke-width="1.2"/>
<line x1="49.0" y1="184.23" x2="54.0" y2="184.23" stroke="#000" stroke-width="1.2"/>
<line x1="49.0" y1="175.80" x2="54.0" y2="175.80" stroke="#000" stroke-width="1.2"/>
<line x1="49.0" y1="169.83" x2="54.0" y2="169.83" stroke="#000" stroke-width="1.2"/>
<line x1="49.0" y1="165.19" x2="54.0" y2="165.19" stroke="#000" stroke-width="1.2"/>
<line x1="49.0" y1="161.40" x2="54.0" y2="161.40" stroke="#000" stroke-width="1.2"/>
<line x1="49.0" y1="158.19" x2="54.0" y2="158.19" stroke="#000" stroke-width="1.2"/>
<line x1="49.0" y1="155.42" x2="54.0" y2="155.42" stroke="#000" stroke-width="1.2"/>
<line x1="49.0" y1="152.97" x2="54.0" y2="152.97" stroke="#000" stroke-width="1.2"/>
<line x1="49.0" y1="150.78" x2="54.0" y2="150.78" stroke="#000" stroke-width="1.2"/>
<line x1="49.0" y1="136.37" x2="54.0" y2="136.37" stroke="#000" stroke-width="1.2"/>
<line x1="49.0" y1="127.94" x2="54.0" y2="127.94" stroke="#000" stroke-width="1.2"/>
<line x1="49.0" y1="121.97" x2="54.0" y2="121.97" stroke="#000" stroke-width="1.2"/>
<line x1="49.0" y1="117.33" x2="54.0" y2="117.33" stroke="#000" stroke-width="1.2"/>
<line x1="49.0" y1="113.54" x2="54.0" y2="113.54" stroke="#000" stroke-width="1.2"/>
<line x1="49.0" y1="110.33" x2="54.0" y2="110.33" stroke="#000" stroke-width="1.2"/>
<line x1="49.0" y1="107.56" x2="54.0" y2="107.56" stroke="#000" stroke-width="1.2"/>
<line x1="49.0" y1="105.11" x2="54.0" y2="105.11" stroke="#000" stroke-width="1.2"/>
<line x1="49.0" y1="102.92" x2="54.0" y2="102.92" stroke="#000" stroke-width="1.2"/>
<line x1="49.0" y1="88.51" x2="54.0" y2="88.51" stroke="#000" stroke-width="1.2"/>
<line x1="49.0" y1="80.08" x2="54.0" y2="80.08" stroke="#000" stroke-width="1.2"/>
<line x1="49.0" y1="74.11" x2="54.0" y2="74.11" stroke="#000" stroke-width="1.2"/>
<line x1="49.0" y1="69.47" x2="54.0" y2="69.47" stroke="#000" stroke-width="1.2"/>
<line x1="49.0" y1="65.68" x2="54.0" y2="65.68" stroke="#000" stroke-width="1.2"/>
<line x1="49.0" y1="62.47" x2="54.0" y2="62.47" stroke="#000" stroke-width="1.2"/>
<line x1="49.0" y1="59.70" x2="54.0" y2="59.70" stroke="#000" stroke-width="1.2"/>
<line x1="49.0" y1="57.25" x2="54.0" y2="57.25" stroke="#000" stroke-width="1.2"/>
<line x1="49.0" y1="55.06" x2="54.0" y2="55.06" stroke="#000" stroke-width="1.2"/>
<line x1="49.0" y1="40.65" x2="54.0" y2="40.65" stroke="#000" stroke-width="1.2"/>
<line x1="49.0" y1="32.22" x2="54.0" y2="32.22" stroke="#000" stroke-width="1.2"/>
<line x1="49.0" y1="26.25" x2="54.0" y2="26.25" stroke="#000" stroke-width="1.2"/>
<line x1="49.0" y1="21.61" x2="54.0" y2="21.61" stroke="#000" stroke-width="1.2"/>
<line x1="49.0" y1="17.82" x2="54.0" y2="17.82" stroke="#000" stroke-width="1.2"/>
<line x1="49.0" y1="14.61" x2="54.0" y2="14.61" stroke="#000" stroke-width="1.2"/>
<line x1="49.0" y1="11.84" x2="54.0" y2="11.84" stroke="#000" stroke-width="1.2"/>
<line x1="49.0" y1="9.39" x2="54.0" y2="9.39" stroke="#000" stroke-width="1.2"/>
<line x1="49.0" y1="7.20" x2="54.0" y2="7.20" stroke="#000" stroke-width="1.2"/>
<rect x="407.2" y="7.2" width="281.30" height="239.3" fill="none" stroke="#222" stroke-width="1.0"/>
<line x1="432.77" y1="246.5" x2="432.77" y2="251.5" stroke="#000" stroke-width="1.2"/>
<line x1="483.92" y1="246.5" x2="483.92" y2="251.5" stroke="#000" stroke-width="1.2"/>
<line x1="535.06" y1="246.5" x2="535.06" y2="251.5" stroke="#000" stroke-width="1.2"/>
<line x1="586.21" y1="246.5" x2="586.21" y2="251.5" stroke="#000" stroke-width="1.2"/>
<line x1="637.35" y1="246.5" x2="637.35" y2="251.5" stroke="#000" stroke-width="1.2"/>
<line x1="688.50" y1="246.5" x2="688.50" y2="251.5" stroke="#000" stroke-width="1.2"/>
<line x1="402.2" y1="246.50" x2="407.2" y2="246.50" stroke="#000" stroke-width="1.2"/>
<line x1="402.2" y1="222.49" x2="407.2" y2="222.49" stroke="#000" stroke-width="1.2"/>
<line x1="402.2" y1="208.44" x2="407.2" y2="208.44" stroke="#000" stroke-width="1.2"/>
<line x1="402.2" y1="198.48" x2="407.2" y2="198.48" stroke="#000" stroke-width="1.2"/>
<line x1="402.2" y1="190.75" x2="407.2" y2="190.75" stroke="#000" stroke-width="1.2"/>
<line x1="402.2" y1="184.43" x2="407.2" y2="184.43" stroke="#000" stroke-width="1.2"/>
<line x1="402.2" y1="179.09" x2="407.2" y2="179.09" stroke="#000" stroke-width="1.2"/>
<line x1="402.2" y1="174.46" x2="407.2" y2="174.46" stroke="#000" stroke-width="1.2"/>
<line x1="402.2" y1="170.38" x2="407.2" y2="170.38" stroke="#000" stroke-width="1.2"/>
<line x1="402.2" y1="166.73" x2="407.2" y2="166.73" stroke="#000" stroke-width="1.2"/>
<line x1="402.2" y1="142.72" x2="407.2" y2="142.72" stroke="#000" stroke-width="1.2"/>
<line x1="402.2" y1="128.67" x2="407.2" y2="128.67" stroke="#000" stroke-width="1.2"/>
<line x1="402.2" y1="118.71" x2="407.2" y2="118.71" stroke="#000" stroke-width="1.2"/>
<line x1="402.2" y1="110.98" x2="407.2" y2="110.98" stroke="#000" stroke-width="1.2"/>
<line x1="402.2" y1="104.66" x2="407.2" y2="104.66" stroke="#000" stroke-width="1.2"/>
<line x1="402.2" y1="99.32" x2="407.2" y2="99.32" stroke="#000" stroke-width="1.2"/>
<line x1="402.2" y1="94.70" x2="407.2" y2="94.70" stroke="#000" stroke-width="1.2"/>
<line x1="402.2" y1="90.62" x2="407.2" y2="90.62" stroke="#000" stroke-width="1.2"/>
<line x1="402.2" y1="86.97" x2="407.2" y2="86.97" stroke="#000" stroke-width="1.2"/>
<line x1="402.2" y1="62.95" x2="407.2" y2="62.95" stroke="#000" stroke-width="1.2"/>
<line x1="402.2" y1="48.91" x2="407.2" y2="48.91" stroke="#000" stroke-width="1.2"/>
<line x1="402.2" y1="38.94" x2="407.2" y2="38.94" stroke="#000" stroke-width="1.2"/>
<line x1="402.2" y1="31.21" x2="407.2" y2="31.21" stroke="#000" stroke-width="1.2"/>
<line x1="402.2" y1="24.90" x2="407.2" y2="24.90" stroke="#000" stroke-width="1.2"/>
<line x1="402.2" y1="19.56" x2="407.2" y2="19.56" stroke="#000" stroke-width="1.2"/>
<line x1="402.2" y1="14.93" x2="407.2" y2="14.93" stroke="#000" stroke-width="1.2"/>
<line x1="402.2" y1="10.85" x2="407.2" y2="10.85" stroke="#000" stroke-width="1.2"/>
<line x1="402.2" y1="7.20" x2="407.2" y2="7.20" stroke="#000" stroke-width="1.2"/>
<rect x="234.3" y="10.4" width="97.8" height="69.9" rx="2" ry="2" fill="#fff" fill-opacity="0.8" stroke="#dadada" stroke-width="1"/>
<line x1="236.10" y1="15.30" x2="249.80" y2="15.30" stroke="#1f77b4" stroke-width="1.1"/>
<g fill="#1f77b4" stroke="#1f77b4" stroke-width="0.6"><circle cx="243.20" cy="15.30" r="2.0"/></g>
<line x1="236.10" y1="25.08" x2="249.80" y2="25.08" stroke="#ff7f0e" stroke-width="1.1"/>
<g fill="#ff7f0e" stroke="#ff7f0e" stroke-width="0.6"><path d="M241.15,23.03L245.25,23.03L243.20,27.13Z"/></g>
<line x1="236.10" y1="34.86" x2="249.80" y2="34.86" stroke="#2ca02c" stroke-width="1.1"/>
<g fill="#2ca02c" stroke="#2ca02c" stroke-width="0.6"><path d="M241.15,32.81L241.15,36.91L245.25,34.86Z"/></g>
<line x1="236.10" y1="44.64" x2="249.80" y2="44.64" stroke="#d62728" stroke-width="1.1"/>
<g fill="#d62728" stroke="#d62728" stroke-width="0.6"><path d="M245.25,42.59L245.25,46.69L241.15,44.64Z"/></g>
<line x1="236.10" y1="54.42" x2="249.80" y2="54.42" stroke="#9467bd" stroke-width="1.1"/>
<g stroke="#9467bd"><path d="M243.20,52.17V56.67" fill="none" stroke-width="0.9"/></g>
<line x1="236.10" y1="64.20" x2="249.80" y2="64.20" stroke="#8c564b" stroke-width="1.1"/>
<g fill="#8c564b" stroke="#8c564b" stroke-width="0.6"><path d="M243.20,61.40L245.10,64.20L243.20,67.00L241.30,64.20Z"/></g>
<line x1="236.10" y1="73.98" x2="249.80" y2="73.98" stroke="#e377c2" stroke-width="1.1"/>
<g fill="#e377c2" stroke="#e377c2" stroke-width="0.6"><path d="M243.20,71.48 L243.79,73.17 L245.58,73.21 L244.15,74.29 L244.67,76.00 L243.20,74.98 L241.73,76.00 L242.25,74.29 L240.82,73.21 L242.61,73.17Z"/></g>
<rect x="587.7" y="10.4" width="97.8" height="69.9" rx="2" ry="2" fill="#fff" fill-opacity="0.8" stroke="#dadada" stroke-width="1"/>
<line x1="589.50" y1="15.30" x2="603.20" y2="15.30" stroke="#1f77b4" stroke-width="1.1"/>
<g fill="#1f77b4" stroke="#1f77b4" stroke-width="0.6"><circle cx="596.60" cy="15.30" r="2.0"/></g>
<line x1="589.50" y1="25.08" x2="603.20" y2="25.08" stroke="#ff7f0e" stroke-width="1.1"/>
<g fill="#ff7f0e" stroke="#ff7f0e" stroke-width="0.6"><path d="M594.55,23.03L598.65,23.03L596.60,27.13Z"/></g>
<line x1="589.50" y1="34.86" x2="603.20" y2="34.86" stroke="#2ca02c" stroke-width="1.1"/>
<g fill="#2ca02c" stroke="#2ca02c" stroke-width="0.6"><path d="M594.55,32.81L594.55,36.91L598.65,34.86Z"/></g>
<line x1="589.50" y1="44.64" x2="603.20" y2="44.64" stroke="#d62728" stroke-width="1.1"/>
<g fill="#d62728" stroke="#d62728" stroke-width="0.6"><path d="M598.65,42.59L598.65,46.69L594.55,44.64Z"/></g>
<line x1="589.50" y1="54.42" x2="603.20" y2="54.42" stroke="#9467bd" stroke-width="1.1"/>
<g stroke="#9467bd"><path d="M596.60,52.17V56.67" fill="none" stroke-width="0.9"/></g>
<line x1="589.50" y1="64.20" x2="603.20" y2="64.20" stroke="#8c564b" stroke-width="1.1"/>
<g fill="#8c564b" stroke="#8c564b" stroke-width="0.6"><path d="M596.60,61.40L598.50,64.20L596.60,67.00L594.70,64.20Z"/></g>
<line x1="589.50" y1="73.98" x2="603.20" y2="73.98" stroke="#e377c2" stroke-width="1.1"/>
<g fill="#e377c2" stroke="#e377c2" stroke-width="0.6"><path d="M596.60,71.48 L597.19,73.17 L598.98,73.21 L597.55,74.29 L598.07,76.00 L596.60,74.98 L595.13,76.00 L595.65,74.29 L594.22,73.21 L596.01,73.17Z"/></g>
<g style="will-change:transform"><g transform="translate(67.851,263.700) scale(1.1436,1)"><text class="tk">600</text></g>
<g transform="translate(119.142,263.700) scale(1.1363,1)"><text class="tk">800</text></g>
<g transform="translate(166.051,263.700) scale(1.1500,1)"><text class="tk">1000</text></g>
<g transform="translate(217.197,263.700) scale(1.1500,1)"><text class="tk">1200</text></g>
<g transform="translate(268.342,263.700) scale(1.1500,1)"><text class="tk">1400</text></g>
<g transform="translate(319.488,263.700) scale(1.1500,1)"><text class="tk">1600</text></g>
<g transform="translate(421.051,263.700) scale(1.1436,1)"><text class="tk">600</text></g>
<g transform="translate(472.342,263.700) scale(1.1363,1)"><text class="tk">800</text></g>
<g transform="translate(519.251,263.700) scale(1.1500,1)"><text class="tk">1000</text></g>
<g transform="translate(570.397,263.700) scale(1.1500,1)"><text class="tk">1200</text></g>
<g transform="translate(621.542,263.700) scale(1.1500,1)"><text class="tk">1400</text></g>
<g transform="translate(672.688,263.700) scale(1.1500,1)"><text class="tk">1600</text></g>
<g transform="translate(17.408,251.000) scale(1.0560,1)"><text class="tk">10</text></g>
<g transform="translate(33.540,246.200) scale(1.2274,1)"><text class="sup">−3</text></g>
<g transform="translate(17.408,203.140) scale(1.0560,1)"><text class="tk">10</text></g>
<g transform="translate(33.540,198.340) scale(1.2274,1)"><text class="sup">−2</text></g>
<g transform="translate(17.408,155.280) scale(1.0560,1)"><text class="tk">10</text></g>
<g transform="translate(33.540,150.480) scale(1.2274,1)"><text class="sup">−1</text></g>
<g transform="translate(24.062,107.220) scale(0.9840,1)"><text class="tk">10</text></g>
<g transform="translate(39.065,102.120) scale(1.3412,1)"><text class="sup">0</text></g>
<g transform="translate(24.062,59.360) scale(0.9840,1)"><text class="tk">10</text></g>
<g transform="translate(41.084,54.260) scale(0.8258,1)"><text class="sup">1</text></g>
<g transform="translate(24.062,11.500) scale(0.9840,1)"><text class="tk">10</text></g>
<g transform="translate(38.882,6.400) scale(1.3818,1)"><text class="sup">2</text></g>
<g transform="translate(377.262,250.800) scale(0.9840,1)"><text class="tk">10</text></g>
<g transform="translate(392.265,245.700) scale(1.3412,1)"><text class="sup">0</text></g>
<g transform="translate(377.262,171.033) scale(0.9840,1)"><text class="tk">10</text></g>
<g transform="translate(394.284,165.933) scale(0.8258,1)"><text class="sup">1</text></g>
<g transform="translate(377.262,91.267) scale(0.9840,1)"><text class="tk">10</text></g>
<g transform="translate(392.082,86.167) scale(1.3818,1)"><text class="sup">2</text></g>
<g transform="translate(377.262,11.500) scale(0.9840,1)"><text class="tk">10</text></g>
<g transform="translate(392.265,6.400) scale(1.3412,1)"><text class="sup">3</text></g>
<g transform="translate(141.000,278.000) scale(1.1432,1)"><text class="al">Wavelength (nm)</text></g>
<g transform="translate(494.200,278.000) scale(1.1432,1)"><text class="al">Wavelength (nm)</text></g>
<g transform="translate(11.900,221.852) rotate(-90) scale(1.1837,1)"><text class="al">Absorption coefficient (</text></g>
<g transform="translate(11.900,71.130) rotate(-90) scale(1.0400,1)"><text class="ali">mm</text></g>
<g transform="translate(7.300,48.940) rotate(-90) scale(1.1726,1)"><text class="als">−1</text></g>
<g transform="translate(11.900,37.141) rotate(-90) scale(1.2690,1)"><text class="al">)</text></g>
<g transform="translate(372.000,220.595) rotate(-90) scale(1.1893,1)"><text class="al">Scattering coefficient (</text></g>
<g transform="translate(372.000,73.330) rotate(-90) scale(1.0400,1)"><text class="ali">mm</text></g>
<g transform="translate(367.400,51.140) rotate(-90) scale(1.1726,1)"><text class="als">−1</text></g>
<g transform="translate(372.000,39.341) rotate(-90) scale(1.2690,1)"><text class="al">)</text></g>
<g transform="translate(254.479,17.800) scale(0.9698,1)"><text class="lg">Stratum corneum</text></g>
<g transform="translate(254.480,27.400) scale(0.9593,1)"><text class="lg">Living epidermis</text></g>
<g transform="translate(254.481,37.400) scale(0.9487,1)"><text class="lg">Papillary dermis</text></g>
<g transform="translate(254.121,47.400) scale(0.9590,1)"><text class="lg">Upper blood net dermis</text></g>
<g transform="translate(254.481,57.200) scale(0.9500,1)"><text class="lg">Reticular dermis</text></g>
<g transform="translate(254.480,67.000) scale(0.9568,1)"><text class="lg">Deep blood net dermis</text></g>
<g transform="translate(254.482,76.500) scale(0.9450,1)"><text class="lg">Subcutaneous fat</text></g>
<g transform="translate(607.879,17.800) scale(0.9698,1)"><text class="lg">Stratum corneum</text></g>
<g transform="translate(607.880,27.400) scale(0.9593,1)"><text class="lg">Living epidermis</text></g>
<g transform="translate(607.881,37.400) scale(0.9487,1)"><text class="lg">Papillary dermis</text></g>
<g transform="translate(607.521,47.400) scale(0.9590,1)"><text class="lg">Upper blood net dermis</text></g>
<g transform="translate(607.881,57.200) scale(0.9500,1)"><text class="lg">Reticular dermis</text></g>
<g transform="translate(607.880,67.000) scale(0.9568,1)"><text class="lg">Deep blood net dermis</text></g>
<g transform="translate(607.882,76.500) scale(0.9450,1)"><text class="lg">Subcutaneous fat</text></g>
<g transform="translate(66.227,27.000) scale(1.0182,1)"><text class="pl">(a)</text></g>
<g transform="translate(422.127,27.000) scale(1.0182,1)"><text class="pl">(b)</text></g></g>
</svg></body></html>
